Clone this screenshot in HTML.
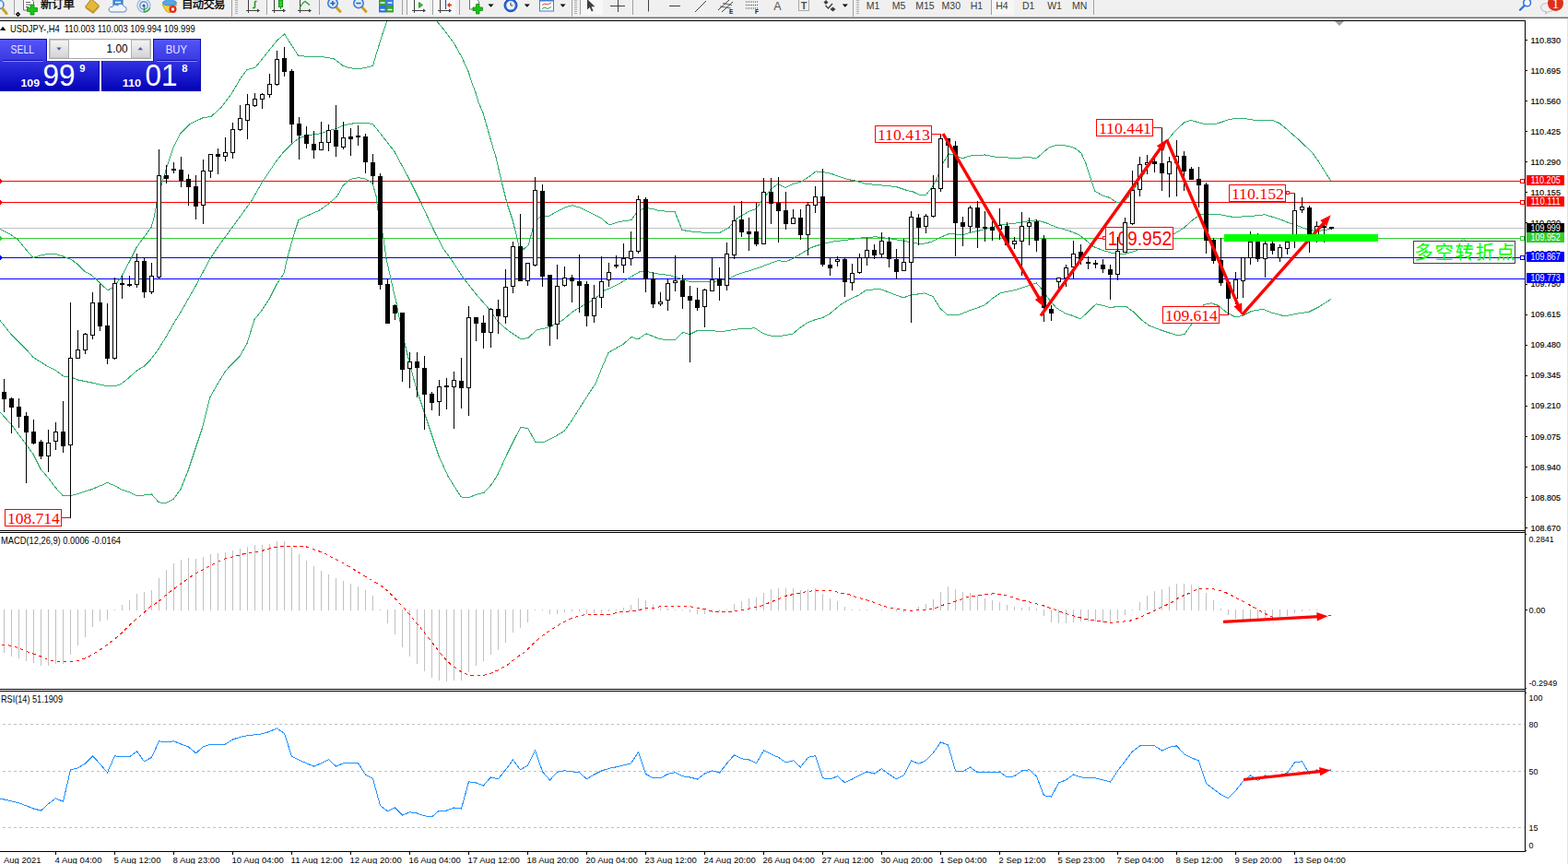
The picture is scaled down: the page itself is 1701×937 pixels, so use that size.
<!DOCTYPE html>
<html><head><meta charset="utf-8"><title>USDJPY H4</title>
<style>html,body{margin:0;padding:0;background:#fff;}body{width:1701px;height:937px;overflow:hidden;font-family:"Liberation Sans",sans-serif;}#root{position:relative;width:1701px;height:937px;overflow:hidden;background:#fff}text{white-space:pre}</style>
</head><body><div id="root">
<svg width="1701" height="937" viewBox="0 0 1701 937" style="position:absolute;left:0;top:0;display:block">
<defs><clipPath id="cm"><rect x="0" y="23" width="1654" height="552"/></clipPath><clipPath id="ctb"><rect x="0" y="0" width="1701" height="18"/></clipPath><clipPath id="cmacd"><rect x="0" y="578" width="1654" height="169"/></clipPath><clipPath id="crsi"><rect x="0" y="750" width="1654" height="173"/></clipPath><linearGradient id="gb1" x1="0" y1="0" x2="0" y2="1"><stop offset="0" stop-color="#5555fb"/><stop offset="1" stop-color="#3838e0"/></linearGradient><linearGradient id="gb2" x1="0" y1="0" x2="0" y2="1"><stop offset="0" stop-color="#3232e2"/><stop offset="0.45" stop-color="#1c1cd0"/><stop offset="1" stop-color="#0202b4"/></linearGradient><linearGradient id="gbtn" x1="0" y1="0" x2="0" y2="1"><stop offset="0" stop-color="#f4f4f4"/><stop offset="1" stop-color="#d4d4d4"/></linearGradient></defs>
<rect x="0" y="0" width="1701" height="937" fill="#ffffff" />
<rect x="0" y="0" width="1701" height="18" fill="#f0f0f0" />
<rect x="0" y="18" width="1701" height="1" fill="#b4b4b4" />
<rect x="0" y="19" width="1701" height="1" fill="#6e6e6e" />
<rect x="1700" y="20" width="1" height="917" fill="#e3e3e3" />
<g clip-path="url(#ctb)">
<circle cx="-0.5" cy="5" r="4.5" fill="#e8f2fc" stroke="#4a86d0" stroke-width="1.6"/>
<path d="M2.5 9 L7 14.5" stroke="#c9a227" stroke-width="3" stroke-linecap="round"/>
<rect x="15" y="0" width="1" height="16" fill="#a0a0a0" shape-rendering="crispEdges"/>
<path d="M19.5 13.7 L21.3 15.5 L19.5 17.3 L17.7 15.5 Z" fill="none" stroke="#000" stroke-width="1.4"/>
<path d="M25.5 -1 H34 L36.5 1.5 V11 H25.5 Z" fill="#fff" stroke="#707070" stroke-width="1"/>
<path d="M28 2.5 H33 M28 5 H33 M28 7.5 H31" stroke="#606060" stroke-width="1"/>
<path d="M33 5 H37 V8.5 H40.5 V12.5 H37 V16 H33 V12.5 H29.5 V8.5 H33 Z" fill="#19c419" stroke="#0a8a0a" stroke-width="0.8"/>
<text x="44" y="9.31" font-family="'Liberation Sans','Noto Sans CJK SC',sans-serif" font-size="12.4px" fill="#000" stroke="#000" stroke-width="0.35" textLength="36.8" lengthAdjust="spacing">新订单</text>
<path d="M92.5 7.5 L99 -1 L107.5 6 L101 13 Z" fill="#e2b93a" stroke="#a87812" stroke-width="1"/>
<path d="M93 8.5 L101 14 L107.5 7.2" fill="none" stroke="#c49a2a" stroke-width="1.4"/>
<rect x="123" y="-1" width="10" height="9" fill="#3d8fe0" stroke="#2a6fc0" stroke-width="1"/>
<path d="M125 2.5 H131" stroke="#fff" stroke-width="1.4"/>
<path d="M122 13 H134 a3 3 0 0 0 0.5 -6 a4 4 0 0 0 -7 -1 a3.5 3.5 0 0 0 -5.5 1.5 a2.8 2.8 0 0 0 -2 5.5 Z" fill="#eef4fb" stroke="#5a86c8" stroke-width="1"/>
<circle cx="156" cy="6" r="7" fill="none" stroke="#9bbce0" stroke-width="1.4"/>
<circle cx="156" cy="6" r="4.2" fill="none" stroke="#5f93d6" stroke-width="1.4"/>
<path d="M156.5 6 V13 a7 7 0 0 0 6 -4.5" fill="none" stroke="#3ea54a" stroke-width="1.6"/>
<circle cx="156" cy="6" r="1.6" fill="#2a62c0"/>
<path d="M176 5 L192 5 L186 12 L184 14 L180 12 Z" fill="#f2cf3a" stroke="#c69a18" stroke-width="0.8"/>
<ellipse cx="184" cy="3" rx="7.5" ry="3" fill="#58a6e6" stroke="#2f7fd0" stroke-width="0.8"/>
<path d="M180 3 Q180 -3 184 -3 Q188 -3 188 3 Z" fill="#58a6e6"/>
<circle cx="187.5" cy="10" r="4" fill="#e02a1c"/><rect x="186" y="8.5" width="3" height="3" fill="#fff"/>
<text x="197" y="9.31" font-family="'Liberation Sans','Noto Sans CJK SC',sans-serif" font-size="12.4px" fill="#000" stroke="#000" stroke-width="0.35" textLength="47.5" lengthAdjust="spacing">自动交易</text>
<rect x="251" y="0" width="1" height="18" fill="#a0a0a0" shape-rendering="crispEdges"/>
<rect x="255" y="0" width="3" height="1" fill="#b0b0b0" shape-rendering="crispEdges"/>
<rect x="255" y="2" width="3" height="1" fill="#b0b0b0" shape-rendering="crispEdges"/>
<rect x="255" y="4" width="3" height="1" fill="#b0b0b0" shape-rendering="crispEdges"/>
<rect x="255" y="6" width="3" height="1" fill="#b0b0b0" shape-rendering="crispEdges"/>
<rect x="255" y="8" width="3" height="1" fill="#b0b0b0" shape-rendering="crispEdges"/>
<rect x="255" y="10" width="3" height="1" fill="#b0b0b0" shape-rendering="crispEdges"/>
<rect x="255" y="12" width="3" height="1" fill="#b0b0b0" shape-rendering="crispEdges"/>
<rect x="255" y="14" width="3" height="1" fill="#b0b0b0" shape-rendering="crispEdges"/>
<path d="M269.5 -2 V14.0 M267 11.5 H281" stroke="#404040" stroke-width="1" fill="none"/>
<path d="M279 9.5 L282 11.5 L279 13.5 Z" fill="#404040"/>
<path d="M276.5 1.5 H278.5 M276.5 1.5 V8.5 M274 8.5 H276.5" stroke="#18a018" stroke-width="1.6" fill="none"/>
<rect x="290" y="0" width="24" height="16" fill="#f7f7f7"/>
<rect x="289" y="0" width="1" height="16" fill="#a0a0a0" shape-rendering="crispEdges"/>
<path d="M297.5 -2 V14.0 M295 11.5 H309" stroke="#404040" stroke-width="1" fill="none"/>
<path d="M307 9.5 L310 11.5 L307 13.5 Z" fill="#404040"/>
<rect x="302.5" y="0" width="4" height="7.5" fill="#2fd02f" stroke="#109010" stroke-width="1"/><path d="M304.5 8 V10" stroke="#109010" stroke-width="1"/>
<path d="M325.5 -2 V14.0 M323 11.5 H337" stroke="#404040" stroke-width="1" fill="none"/>
<path d="M335 9.5 L338 11.5 L335 13.5 Z" fill="#404040"/>
<path d="M325 9 Q328 3 331 1.5 L336 5.5" stroke="#18a018" stroke-width="1.2" fill="none"/>
<rect x="346" y="0" width="1" height="16" fill="#a0a0a0" shape-rendering="crispEdges"/>
<path d="M364.5 7.5 L369 12.5" stroke="#d0a020" stroke-width="3" stroke-linecap="round"/>
<circle cx="361" cy="3.5" r="5.2" fill="#dcecfb" stroke="#3f7fd0" stroke-width="1.6"/>
<path d="M358.4 3.5 H363.6" stroke="#2a62c0" stroke-width="1.6"/>
<path d="M361 0.9 V6.1" stroke="#2a62c0" stroke-width="1.6"/>
<path d="M392.5 7.5 L397 12.5" stroke="#d0a020" stroke-width="3" stroke-linecap="round"/>
<circle cx="389" cy="3.5" r="5.2" fill="#dcecfb" stroke="#3f7fd0" stroke-width="1.6"/>
<path d="M386.4 3.5 H391.6" stroke="#2a62c0" stroke-width="1.6"/>
<rect x="411" y="-1" width="8" height="7" fill="#3aa03a"/><rect x="419" y="-1" width="8" height="7" fill="#3d7be0"/>
<rect x="411" y="6" width="8" height="7.5" fill="#2f6fe0"/><rect x="419" y="6" width="8" height="7.5" fill="#3aa03a"/>
<path d="M412.5 10.5 H417.5 M420.5 10.5 H425.5 M412.5 3 H417.5 M420.5 3 H425.5" stroke="#f4f8ff" stroke-width="1.6"/>
<rect x="436" y="0" width="1" height="16" fill="#a0a0a0" shape-rendering="crispEdges"/>
<rect x="442" y="0" width="24" height="16" fill="#f8f8f8"/><rect x="470" y="0" width="24" height="16" fill="#f8f8f8"/>
<rect x="441" y="0" width="1" height="16" fill="#a0a0a0" shape-rendering="crispEdges"/>
<path d="M449.5 -2 V14.0 M447 11.5 H461" stroke="#404040" stroke-width="1" fill="none"/>
<path d="M459 9.5 L462 11.5 L459 13.5 Z" fill="#404040"/>
<path d="M454.5 2.5 L458.5 5.5 L454.5 8.5 Z" fill="#2fc02f" stroke="#109010" stroke-width="0.8"/>
<rect x="469" y="0" width="1" height="16" fill="#a0a0a0" shape-rendering="crispEdges"/>
<path d="M477.5 -2 V14.0 M475 11.5 H489" stroke="#404040" stroke-width="1" fill="none"/>
<path d="M487 9.5 L490 11.5 L487 13.5 Z" fill="#404040"/>
<path d="M483.5 -2 V10" stroke="#2060a8" stroke-width="1.2"/><path d="M490 5.5 H486 M488 3.5 L486 5.5 L488 7.5" stroke="#e03010" stroke-width="1.3" fill="none"/>
<rect x="498" y="0" width="1" height="16" fill="#a0a0a0" shape-rendering="crispEdges"/>
<path d="M509.5 -1 H517 L519.5 1.5 V10 H509.5 Z" fill="#fff" stroke="#707070" stroke-width="1"/>
<path d="M516.5 4.5 H520 V8 H523.5 V11.5 H520 V15 H516.5 V11.5 H513 V8 H516.5 Z" fill="#19c419" stroke="#0a8a0a" stroke-width="0.8"/>
<path d="M529.5 4.5 L535.5 4.5 L532.5 7.8 Z" fill="#000"/>
<circle cx="554" cy="5.8" r="7" fill="#2a66d8" stroke="#1c48a8" stroke-width="1"/><circle cx="554" cy="5.8" r="4.8" fill="#eef4ff"/>
<path d="M554 2.6 V6 H556.5" stroke="#404040" stroke-width="1" fill="none"/>
<path d="M568.8 4.5 L574.8 4.5 L571.8 7.8 Z" fill="#000"/>
<rect x="585.5" y="-1" width="15" height="13" fill="#fff" stroke="#3f7fd0" stroke-width="1"/><rect x="586" y="-1" width="14" height="2.5" fill="#3f7fd0"/>
<path d="M588 5.5 L591 4 L594 5 L598 3" stroke="#d04030" stroke-width="1" fill="none"/><path d="M588 9.5 L591 8 L594 9.5 L598 7.5" stroke="#30a040" stroke-width="1" fill="none"/>
<path d="M607.6 4.5 L613.6 4.5 L610.6 7.8 Z" fill="#000"/>
<rect x="620" y="0" width="1" height="18" fill="#a0a0a0" shape-rendering="crispEdges"/>
<rect x="623" y="0" width="3" height="1" fill="#b0b0b0" shape-rendering="crispEdges"/>
<rect x="623" y="2" width="3" height="1" fill="#b0b0b0" shape-rendering="crispEdges"/>
<rect x="623" y="4" width="3" height="1" fill="#b0b0b0" shape-rendering="crispEdges"/>
<rect x="623" y="6" width="3" height="1" fill="#b0b0b0" shape-rendering="crispEdges"/>
<rect x="623" y="8" width="3" height="1" fill="#b0b0b0" shape-rendering="crispEdges"/>
<rect x="623" y="10" width="3" height="1" fill="#b0b0b0" shape-rendering="crispEdges"/>
<rect x="623" y="12" width="3" height="1" fill="#b0b0b0" shape-rendering="crispEdges"/>
<rect x="623" y="14" width="3" height="1" fill="#b0b0b0" shape-rendering="crispEdges"/>
<rect x="630" y="0" width="24" height="16" fill="#f8f8f8"/>
<rect x="629" y="0" width="1" height="16" fill="#a0a0a0" shape-rendering="crispEdges"/>
<path d="M637 -1 V10.5 L639.8 8 L641.8 12.5 L643.5 11.7 L641.6 7.3 L645.5 7.3 Z" fill="#404040"/>
<path d="M670.5 -2 V13 M662 6.5 H678" stroke="#404040" stroke-width="1"/>
<rect x="686" y="0" width="1" height="16" fill="#a0a0a0" shape-rendering="crispEdges"/>
<path d="M703.5 -2 V12.5" stroke="#404040" stroke-width="1"/>
<path d="M726 6.5 H738" stroke="#404040" stroke-width="1"/>
<path d="M754 13 L766 1" stroke="#404040" stroke-width="1"/>
<path d="M779 11 L791 0 M783 13 L795 2" stroke="#404040" stroke-width="1"/><path d="M781 7 L793 9 M784 3.5 L794 5.5" stroke="#404040" stroke-width="0.8"/>
<text x="791" y="15" font-family="Liberation Sans" font-size="6.5px" font-weight="bold" fill="#202020">E</text>
<path d="M809 2 H823" stroke="#404040" stroke-width="1" stroke-dasharray="1 1"/>
<path d="M809 5.5 H823" stroke="#404040" stroke-width="1" stroke-dasharray="1 1"/>
<path d="M809 9 H823" stroke="#404040" stroke-width="1" stroke-dasharray="1 1"/>
<text x="819" y="15" font-family="Liberation Sans" font-size="6.5px" font-weight="bold" fill="#202020">F</text>
<text x="843.3" y="10.5" font-family="Liberation Sans" font-size="12.5px" fill="#505050" text-anchor="middle">A</text>
<rect x="866.5" y="-0.5" width="11" height="12" fill="none" stroke="#606060" stroke-width="1" stroke-dasharray="1 1"/>
<text x="872" y="10" font-family="Liberation Sans" font-size="11px" font-weight="bold" fill="#505050" text-anchor="middle">T</text>
<path d="M893.5 2.5 L896 0 L898.5 2.5 L896 5 Z" fill="#404040"/><path d="M900.5 10 L903.5 7.5 L906.5 10 L903.5 12.5 Z" fill="#404040"/><path d="M895.5 6 L898.5 9 L903 4" stroke="#404040" stroke-width="1.4" fill="none"/>
<path d="M913.8 4.5 L919.8 4.5 L916.8 7.8 Z" fill="#000"/>
<rect x="925" y="0" width="1" height="18" fill="#a0a0a0" shape-rendering="crispEdges"/>
<rect x="929" y="0" width="3" height="1" fill="#b0b0b0" shape-rendering="crispEdges"/>
<rect x="929" y="2" width="3" height="1" fill="#b0b0b0" shape-rendering="crispEdges"/>
<rect x="929" y="4" width="3" height="1" fill="#b0b0b0" shape-rendering="crispEdges"/>
<rect x="929" y="6" width="3" height="1" fill="#b0b0b0" shape-rendering="crispEdges"/>
<rect x="929" y="8" width="3" height="1" fill="#b0b0b0" shape-rendering="crispEdges"/>
<rect x="929" y="10" width="3" height="1" fill="#b0b0b0" shape-rendering="crispEdges"/>
<rect x="929" y="12" width="3" height="1" fill="#b0b0b0" shape-rendering="crispEdges"/>
<rect x="929" y="14" width="3" height="1" fill="#b0b0b0" shape-rendering="crispEdges"/>
<rect x="1076" y="0" width="24" height="16" fill="#f7f7f7"/>
<rect x="1075" y="0" width="1" height="16" fill="#a0a0a0" shape-rendering="crispEdges"/>
<text x="947" y="10" font-family="Liberation Sans" font-size="10.5px" fill="#3c3c3c" text-anchor="middle">M1</text>
<text x="975" y="10" font-family="Liberation Sans" font-size="10.5px" fill="#3c3c3c" text-anchor="middle">M5</text>
<text x="1003.5" y="10" font-family="Liberation Sans" font-size="10.5px" fill="#3c3c3c" text-anchor="middle">M15</text>
<text x="1031.8" y="10" font-family="Liberation Sans" font-size="10.5px" fill="#3c3c3c" text-anchor="middle">M30</text>
<text x="1059.4" y="10" font-family="Liberation Sans" font-size="10.5px" fill="#3c3c3c" text-anchor="middle">H1</text>
<text x="1087" y="10" font-family="Liberation Sans" font-size="10.5px" fill="#3c3c3c" text-anchor="middle">H4</text>
<text x="1115.6" y="10" font-family="Liberation Sans" font-size="10.5px" fill="#3c3c3c" text-anchor="middle">D1</text>
<text x="1144" y="10" font-family="Liberation Sans" font-size="10.5px" fill="#3c3c3c" text-anchor="middle">W1</text>
<text x="1171.2" y="10" font-family="Liberation Sans" font-size="10.5px" fill="#3c3c3c" text-anchor="middle">MN</text>
<rect x="1186" y="0" width="1" height="16" fill="#a0a0a0" shape-rendering="crispEdges"/>
<circle cx="1656.6" cy="2.9" r="3.9" fill="#f4f8ff" stroke="#2f6fd8" stroke-width="1.5"/><path d="M1653.8 5.9 L1649 10.8" stroke="#2f6fd8" stroke-width="2.2" stroke-linecap="round"/>
<path d="M1680 4 a6 4.5 0 1 0 -2.5 8.6 l-1 2.4 l3.5 -2.4 a6.5 4.5 0 0 0 6 -4" fill="#f0f0f4" stroke="#b8b8c0" stroke-width="1"/>
<circle cx="1687.5" cy="3.4" r="8.5" fill="#dc3018"/>
<text x="1687.5" y="8.5" font-family="Liberation Serif" font-size="15px" fill="#fff" text-anchor="middle">1</text>
</g>
<rect x="0" y="22" width="1655" height="1" fill="#000000" />
<rect x="1654" y="22" width="1" height="902" fill="#000000" />
<rect x="0" y="575" width="1655" height="1" fill="#000000" />
<rect x="0" y="577" width="1655" height="1" fill="#000000" />
<rect x="0" y="747" width="1655" height="1" fill="#000000" />
<rect x="0" y="749" width="1655" height="1" fill="#000000" />
<rect x="0" y="923" width="1655" height="1" fill="#000000" />
<path d="M1448 23 L1458 23 L1453 28 Z" fill="#a0a0a0"/>
<g shape-rendering="crispEdges">
<rect x="0" y="247" width="1654" height="1" fill="#c0c0c0" />
<rect x="0" y="196" width="1654" height="1" fill="#ff0000" />
<rect x="0" y="219" width="1654" height="1" fill="#ff0000" />
<rect x="0" y="258" width="1654" height="1" fill="#32cd32" />
<rect x="0" y="279" width="1654" height="1" fill="#0000ff" />
<rect x="0" y="302" width="1654" height="1" fill="#0000ff" />
<rect x="0" y="194" width="1" height="5" fill="#ff0000" />
<rect x="1" y="195" width="1" height="3" fill="#ff0000" />
<rect x="1649.5" y="194.5" width="4" height="4" fill="#fff" stroke="#ff0000" stroke-width="1"/>
<rect x="0" y="217" width="1" height="5" fill="#ff0000" />
<rect x="1" y="218" width="1" height="3" fill="#ff0000" />
<rect x="1649.5" y="217.5" width="4" height="4" fill="#fff" stroke="#ff0000" stroke-width="1"/>
<rect x="0" y="256" width="1" height="5" fill="#32cd32" />
<rect x="1" y="257" width="1" height="3" fill="#32cd32" />
<rect x="1649.5" y="256.5" width="4" height="4" fill="#fff" stroke="#32cd32" stroke-width="1"/>
<rect x="0" y="277" width="1" height="5" fill="#0000ff" />
<rect x="1" y="278" width="1" height="3" fill="#0000ff" />
<rect x="1649.5" y="277.5" width="4" height="4" fill="#fff" stroke="#0000ff" stroke-width="1"/>
</g>
<polyline points="0.0,248.5 12.0,254.5 20.0,260.5 28.0,270.5 36.0,279.5 44.0,277.0 52.0,275.5 62.0,275.9 70.0,278.5 78.0,282.0 84.0,286.5 92.0,294.5 98.0,297.5 104.0,302.5 110.0,308.5 117.0,315.0 124.0,310.5 132.0,299.5 140.0,284.5 148.0,268.5 156.0,257.5 164.0,246.5 167.0,236.5 170.0,220.5 175.0,201.3 180.0,184.3 188.0,160.4 196.0,144.4 206.0,134.4 220.0,127.8 229.0,126.4 240.0,116.4 252.0,100.4 260.0,86.4 268.0,75.5 277.0,73.1 284.0,64.5 292.0,54.5 300.0,44.5 308.6,36.9 316.0,48.5 324.0,60.9 330.0,61.0 337.0,61.8 351.0,61.8 362.5,63.9 372.3,71.5 379.4,73.7 387.8,74.8 396.3,73.4 404.5,71.5 407.0,62.8 410.4,51.5 414.7,37.4 419.6,23.3 424.0,8.5" fill="none" stroke="#2fae6c" stroke-width="1" clip-path="url(#cm)" shape-rendering="crispEdges" />
<polyline points="468.0,12.5 474.0,23.3 482.4,33.2 492.3,46.6 500.7,61.4 507.8,76.9 513.4,93.8 516.0,100.5 519.0,110.8 524.0,122.5 532.0,150.5 538.0,170.5 544.0,196.5 550.0,220.4 556.0,238.4 560.0,254.3 563.0,267.5 568.0,270.3 573.0,266.3 578.0,248.4 583.0,237.4 588.0,234.4 596.0,234.0 606.0,228.4 614.0,224.4 621.0,222.8 630.0,225.4 640.0,230.4 652.0,236.4 661.0,244.0 672.0,240.5 685.0,238.5 692.0,228.5 700.0,225.5 708.0,226.5 716.0,228.8 732.0,229.5 740.0,249.5 756.0,251.8 780.0,252.8 790.0,247.5 800.0,236.5 812.0,229.5 820.0,226.5 828.0,215.5 836.0,205.5 844.0,199.5 852.0,203.5 860.0,199.5 869.0,197.1 878.0,191.5 885.0,185.9 893.0,186.5 902.0,188.5 918.0,194.1 928.0,196.1 940.0,199.5 956.0,200.9 972.0,202.5 984.0,206.5 990.0,207.8 998.0,211.5 1004.0,212.0 1010.0,204.5 1016.0,194.5 1022.0,178.5 1029.0,166.9 1036.0,168.5 1044.0,171.9 1052.0,169.1 1068.0,167.9 1084.0,170.9 1102.0,171.1 1118.0,170.9 1124.0,172.1 1130.0,166.9 1138.0,159.9 1146.0,157.5 1158.0,158.1 1166.0,160.5 1173.0,166.1 1178.0,177.5 1184.0,196.5 1188.0,207.5 1196.0,212.0 1204.0,214.5 1212.0,220.0 1220.0,218.5 1228.0,208.5 1236.0,196.5 1246.0,180.5 1256.0,166.5 1266.0,152.7 1275.3,141.4 1285.0,132.7 1292.0,130.5 1300.7,132.9 1307.7,134.8 1317.0,134.8 1324.7,132.7 1331.7,130.1 1338.8,128.7 1351.5,128.7 1361.3,130.5 1381.0,130.5 1388.0,133.7 1395.0,139.3 1402.0,145.6 1409.0,151.5 1416.0,158.3 1423.4,165.4 1430.5,175.3 1437.5,186.5 1443.6,196.1" fill="none" stroke="#2fae6c" stroke-width="1" clip-path="url(#cm)" shape-rendering="crispEdges" />
<polyline points="0.0,347.5 12.0,362.5 20.0,370.5 30.0,380.5 36.0,387.5 44.0,392.5 52.0,397.5 60.0,401.5 69.0,408.1 76.0,408.5 84.0,411.9 100.0,415.1 116.6,418.9 125.0,418.9 132.0,416.1 140.0,409.5 149.0,401.5 156.0,397.5 164.0,389.3 172.0,378.5 180.0,365.5 188.0,351.5 196.0,338.5 204.0,324.5 212.0,310.5 220.0,295.5 228.0,280.5 236.0,268.5 244.0,257.5 252.0,246.5 260.0,235.5 268.0,224.5 273.0,217.5 284.0,198.3 292.0,186.3 300.0,174.4 308.0,164.4 316.0,156.4 324.0,150.0 332.0,147.4 335.6,146.5 348.3,144.6 356.8,141.5 365.3,139.3 372.3,135.9 383.6,133.8 399.8,133.8 404.8,135.0 414.0,146.5 428.0,164.5 442.0,190.5 456.0,218.4 470.0,248.4 480.0,268.3 489.0,280.5 502.0,300.5 516.0,318.5 530.0,334.5 540.0,348.5 550.0,357.5 565.0,367.8 573.0,366.5 582.0,358.0 596.0,354.8 610.0,347.5 622.0,337.5 634.0,330.5 646.0,323.5 656.0,314.5 660.0,313.4 672.0,307.5 684.0,300.5 694.0,294.8 702.0,294.5 710.0,296.5 726.0,298.5 740.0,302.5 748.0,305.5 764.0,306.0 780.0,304.8 792.0,301.5 800.0,297.5 820.0,291.5 836.0,285.5 844.0,282.5 852.0,284.0 860.0,280.5 870.0,274.5 880.0,268.5 892.0,264.5 904.0,262.0 920.0,260.0 936.0,257.8 950.0,256.8 964.0,258.5 976.0,260.5 988.0,262.8 1000.0,264.8 1010.0,262.4 1020.0,257.4 1030.0,253.4 1044.0,254.8 1056.0,251.4 1070.0,248.4 1084.0,244.0 1100.0,242.4 1114.0,240.0 1124.0,238.8 1134.0,241.4 1146.0,246.4 1160.0,250.4 1170.0,254.4 1178.0,260.4 1186.0,267.4 1196.0,271.4 1208.0,274.8 1220.0,275.4 1230.0,272.8 1238.0,269.4 1250.0,263.4 1264.0,258.4 1274.0,253.4 1284.0,247.4 1294.0,238.4 1302.0,232.8 1314.0,232.0 1320.0,232.0 1338.0,235.5 1356.0,234.5 1372.0,232.8 1388.0,237.5 1400.0,242.5 1410.0,245.5 1419.0,249.5 1430.0,250.5 1444.0,248.5" fill="none" stroke="#2fae6c" stroke-width="1" clip-path="url(#cm)" shape-rendering="crispEdges" />
<polyline points="0.0,447.0 12.4,460.5 28.0,481.5 36.0,492.5 44.0,508.5 52.4,518.5 60.0,528.5 68.4,537.8 76.4,537.8 84.0,535.8 100.0,530.5 116.6,523.5 124.0,526.5 132.0,531.0 140.0,533.5 149.0,538.0 160.0,536.5 164.4,536.0 172.0,544.5 179.0,546.0 188.0,541.5 196.0,530.5 204.0,510.5 212.0,486.5 220.0,462.5 228.0,430.5 236.0,416.5 244.0,403.5 249.0,397.5 260.0,386.5 268.0,372.5 276.0,346.5 284.0,336.5 292.0,324.5 300.0,308.5 308.0,296.5 312.0,278.5 316.0,264.5 320.0,250.5 324.0,238.5 332.0,234.5 346.0,228.4 356.0,221.4 366.0,212.4 372.0,201.4 380.0,194.4 389.0,192.6 396.0,194.0 404.0,198.4 408.0,212.4 410.0,228.4 416.0,258.3 419.0,280.5 424.0,302.5 430.0,328.5 434.0,348.5 439.0,372.5 446.0,400.5 452.0,422.5 460.0,446.5 468.0,470.5 476.0,494.5 486.0,516.5 500.0,538.8 508.0,540.0 516.0,536.4 525.0,534.4 534.0,524.4 540.0,514.5 550.0,492.5 558.0,476.5 565.0,462.9 573.0,464.9 581.0,479.8 590.0,479.5 602.0,473.5 612.0,467.5 620.0,456.5 630.0,440.5 643.0,420.5 646.0,416.4 654.0,396.4 660.0,382.4 676.0,373.4 685.0,365.4 692.0,368.0 701.0,361.8 716.0,367.8 732.0,369.0 741.0,360.4 748.0,362.8 756.0,358.8 776.0,359.0 784.0,359.4 800.0,357.0 819.0,355.8 828.0,361.8 836.0,364.0 844.0,365.0 860.0,362.0 868.0,355.4 876.0,349.8 884.0,346.8 892.0,344.8 900.0,340.4 912.0,330.4 920.0,325.4 932.0,319.9 940.0,314.1 956.0,313.9 968.0,318.5 980.0,322.9 988.0,320.1 1003.0,317.9 1012.0,321.5 1020.0,334.5 1028.0,341.8 1040.0,341.5 1050.0,337.5 1068.0,331.0 1078.0,322.5 1086.0,317.5 1100.0,314.9 1114.0,310.5 1124.3,306.9 1130.0,313.5 1138.0,324.5 1146.0,334.0 1156.0,340.0 1164.0,342.5 1172.0,346.0 1180.0,338.5 1189.0,329.8 1198.0,331.5 1205.0,334.0 1212.0,332.0 1222.0,332.5 1230.0,338.5 1238.0,346.5 1246.0,352.8 1258.0,357.5 1270.0,361.5 1278.0,363.8 1285.0,362.5 1292.0,352.5 1306.0,330.5 1314.0,328.8 1322.0,331.5 1330.0,338.3 1340.0,343.9 1347.0,342.7 1358.0,337.3 1370.0,335.3 1380.0,339.3 1394.0,342.9 1406.0,340.3 1420.0,338.3 1430.0,333.3 1444.0,324.4" fill="none" stroke="#2fae6c" stroke-width="1" clip-path="url(#cm)" shape-rendering="crispEdges" />
<g shape-rendering="crispEdges">
<rect x="1199.5" y="246.5" width="73" height="24" fill="#fff" stroke="#ff0000" stroke-width="1"/>
<rect x="1196.5" y="256.5" width="3" height="3" fill="#fff" stroke="#ff0000" stroke-width="1"/>
<rect x="1190" y="258" width="6" height="1" fill="#ff0000" />
</g>
<text x="1201.7" y="266.48" font-family="Liberation Sans" font-size="22px" font-weight="normal" fill="#ff0000" text-anchor="start" textLength="69.5" lengthAdjust="spacingAndGlyphs" >109.952</text>
<g shape-rendering="crispEdges">
<rect x="4" y="411" width="1" height="36" fill="#000" />
<rect x="2" y="425" width="5" height="8" fill="#000" />
<rect x="12" y="431" width="1" height="39" fill="#000" />
<rect x="10" y="432" width="5" height="10" fill="#000" />
<rect x="20" y="432" width="1" height="32" fill="#000" />
<rect x="18" y="441" width="5" height="11" fill="#000" />
<rect x="28" y="447" width="1" height="77" fill="#000" />
<rect x="26" y="451" width="5" height="18" fill="#000" />
<rect x="36" y="455" width="1" height="27" fill="#000" />
<rect x="34" y="468" width="5" height="13" fill="#000" />
<rect x="44" y="477" width="1" height="21" fill="#000" />
<rect x="42" y="479" width="5" height="16" fill="#000" />
<rect x="52" y="466" width="1" height="46" fill="#000" />
<rect x="50" y="480" width="5" height="15" fill="#000" />
<rect x="51" y="481" width="3" height="13" fill="#fff" />
<rect x="60" y="458" width="1" height="30" fill="#000" />
<rect x="58" y="468" width="5" height="11" fill="#000" />
<rect x="59" y="469" width="3" height="9" fill="#fff" />
<rect x="68" y="435" width="1" height="56" fill="#000" />
<rect x="66" y="468" width="5" height="16" fill="#000" />
<rect x="76" y="328" width="1" height="234" fill="#000" />
<rect x="74" y="388" width="5" height="95" fill="#000" />
<rect x="75" y="389" width="3" height="93" fill="#fff" />
<rect x="84" y="358" width="1" height="31" fill="#000" />
<rect x="82" y="379" width="5" height="10" fill="#000" />
<rect x="83" y="380" width="3" height="8" fill="#fff" />
<rect x="92" y="361" width="1" height="23" fill="#000" />
<rect x="90" y="362" width="5" height="18" fill="#000" />
<rect x="91" y="363" width="3" height="16" fill="#fff" />
<rect x="100" y="317" width="1" height="51" fill="#000" />
<rect x="98" y="328" width="5" height="36" fill="#000" />
<rect x="99" y="329" width="3" height="34" fill="#fff" />
<rect x="108" y="308" width="1" height="51" fill="#000" />
<rect x="106" y="328" width="5" height="26" fill="#000" />
<rect x="116" y="329" width="1" height="66" fill="#000" />
<rect x="114" y="353" width="5" height="36" fill="#000" />
<rect x="124" y="301" width="1" height="89" fill="#000" />
<rect x="122" y="307" width="5" height="82" fill="#000" />
<rect x="123" y="308" width="3" height="80" fill="#fff" />
<rect x="132" y="299" width="1" height="25" fill="#000" />
<rect x="130" y="307" width="5" height="2" fill="#000" />
<rect x="140" y="299" width="1" height="12" fill="#000" />
<rect x="138" y="308" width="5" height="2" fill="#000" />
<rect x="148" y="275" width="1" height="37" fill="#000" />
<rect x="146" y="283" width="5" height="26" fill="#000" />
<rect x="147" y="284" width="3" height="24" fill="#fff" />
<rect x="156" y="280" width="1" height="43" fill="#000" />
<rect x="154" y="283" width="5" height="34" fill="#000" />
<rect x="164" y="285" width="1" height="34" fill="#000" />
<rect x="162" y="299" width="5" height="18" fill="#000" />
<rect x="163" y="300" width="3" height="16" fill="#fff" />
<rect x="172" y="162" width="1" height="140" fill="#000" />
<rect x="170" y="190" width="5" height="111" fill="#000" />
<rect x="171" y="191" width="3" height="109" fill="#fff" />
<rect x="180" y="179" width="1" height="20" fill="#000" />
<rect x="178" y="190" width="5" height="4" fill="#000" />
<rect x="188" y="176" width="1" height="12" fill="#000" />
<rect x="186" y="183" width="5" height="2" fill="#000" />
<rect x="196" y="170" width="1" height="33" fill="#000" />
<rect x="194" y="184" width="5" height="12" fill="#000" />
<rect x="204" y="189" width="1" height="34" fill="#000" />
<rect x="202" y="194" width="5" height="9" fill="#000" />
<rect x="212" y="190" width="1" height="48" fill="#000" />
<rect x="210" y="202" width="5" height="22" fill="#000" />
<rect x="220" y="173" width="1" height="70" fill="#000" />
<rect x="218" y="185" width="5" height="38" fill="#000" />
<rect x="219" y="186" width="3" height="36" fill="#fff" />
<rect x="228" y="167" width="1" height="26" fill="#000" />
<rect x="226" y="167" width="5" height="19" fill="#000" />
<rect x="227" y="168" width="3" height="17" fill="#fff" />
<rect x="236" y="161" width="1" height="28" fill="#000" />
<rect x="234" y="167" width="5" height="3" fill="#000" />
<rect x="244" y="149" width="1" height="26" fill="#000" />
<rect x="242" y="165" width="5" height="5" fill="#000" />
<rect x="243" y="166" width="3" height="3" fill="#fff" />
<rect x="252" y="133" width="1" height="39" fill="#000" />
<rect x="250" y="140" width="5" height="26" fill="#000" />
<rect x="251" y="141" width="3" height="24" fill="#fff" />
<rect x="260" y="114" width="1" height="28" fill="#000" />
<rect x="258" y="128" width="5" height="13" fill="#000" />
<rect x="259" y="129" width="3" height="11" fill="#fff" />
<rect x="268" y="102" width="1" height="49" fill="#000" />
<rect x="266" y="113" width="5" height="18" fill="#000" />
<rect x="267" y="114" width="3" height="16" fill="#fff" />
<rect x="276" y="101" width="1" height="15" fill="#000" />
<rect x="274" y="107" width="5" height="8" fill="#000" />
<rect x="275" y="108" width="3" height="6" fill="#fff" />
<rect x="284" y="101" width="1" height="17" fill="#000" />
<rect x="282" y="102" width="5" height="6" fill="#000" />
<rect x="283" y="103" width="3" height="4" fill="#fff" />
<rect x="292" y="80" width="1" height="26" fill="#000" />
<rect x="290" y="91" width="5" height="12" fill="#000" />
<rect x="291" y="92" width="3" height="10" fill="#fff" />
<rect x="300" y="55" width="1" height="38" fill="#000" />
<rect x="298" y="64" width="5" height="28" fill="#000" />
<rect x="299" y="65" width="3" height="26" fill="#fff" />
<rect x="308" y="51" width="1" height="32" fill="#000" />
<rect x="306" y="63" width="5" height="15" fill="#000" />
<rect x="316" y="75" width="1" height="80" fill="#000" />
<rect x="314" y="77" width="5" height="58" fill="#000" />
<rect x="324" y="127" width="1" height="46" fill="#000" />
<rect x="322" y="134" width="5" height="13" fill="#000" />
<rect x="332" y="137" width="1" height="24" fill="#000" />
<rect x="330" y="146" width="5" height="10" fill="#000" />
<rect x="340" y="142" width="1" height="30" fill="#000" />
<rect x="338" y="156" width="5" height="7" fill="#000" />
<rect x="348" y="132" width="1" height="31" fill="#000" />
<rect x="346" y="154" width="5" height="9" fill="#000" />
<rect x="347" y="155" width="3" height="7" fill="#fff" />
<rect x="356" y="135" width="1" height="29" fill="#000" />
<rect x="354" y="141" width="5" height="14" fill="#000" />
<rect x="355" y="142" width="3" height="12" fill="#fff" />
<rect x="364" y="114" width="1" height="56" fill="#000" />
<rect x="362" y="141" width="5" height="18" fill="#000" />
<rect x="372" y="132" width="1" height="30" fill="#000" />
<rect x="370" y="149" width="5" height="11" fill="#000" />
<rect x="371" y="150" width="3" height="9" fill="#fff" />
<rect x="380" y="139" width="1" height="30" fill="#000" />
<rect x="378" y="148" width="5" height="3" fill="#000" />
<rect x="388" y="136" width="1" height="22" fill="#000" />
<rect x="386" y="147" width="5" height="2" fill="#000" />
<rect x="396" y="145" width="1" height="43" fill="#000" />
<rect x="394" y="148" width="5" height="28" fill="#000" />
<rect x="404" y="167" width="1" height="33" fill="#000" />
<rect x="402" y="176" width="5" height="15" fill="#000" />
<rect x="412" y="188" width="1" height="126" fill="#000" />
<rect x="410" y="191" width="5" height="118" fill="#000" />
<rect x="420" y="303" width="1" height="48" fill="#000" />
<rect x="418" y="308" width="5" height="43" fill="#000" />
<rect x="428" y="330" width="1" height="17" fill="#000" />
<rect x="426" y="331" width="5" height="9" fill="#000" />
<rect x="436" y="339" width="1" height="75" fill="#000" />
<rect x="434" y="339" width="5" height="62" fill="#000" />
<rect x="444" y="382" width="1" height="39" fill="#000" />
<rect x="442" y="392" width="5" height="8" fill="#000" />
<rect x="443" y="393" width="3" height="6" fill="#fff" />
<rect x="452" y="382" width="1" height="49" fill="#000" />
<rect x="450" y="392" width="5" height="7" fill="#000" />
<rect x="460" y="386" width="1" height="80" fill="#000" />
<rect x="458" y="399" width="5" height="29" fill="#000" />
<rect x="468" y="425" width="1" height="20" fill="#000" />
<rect x="466" y="427" width="5" height="10" fill="#000" />
<rect x="476" y="412" width="1" height="39" fill="#000" />
<rect x="474" y="419" width="5" height="17" fill="#000" />
<rect x="475" y="420" width="3" height="15" fill="#fff" />
<rect x="484" y="410" width="1" height="34" fill="#000" />
<rect x="482" y="418" width="5" height="2" fill="#000" />
<rect x="492" y="403" width="1" height="62" fill="#000" />
<rect x="490" y="412" width="5" height="8" fill="#000" />
<rect x="491" y="413" width="3" height="6" fill="#fff" />
<rect x="500" y="388" width="1" height="55" fill="#000" />
<rect x="498" y="413" width="5" height="8" fill="#000" />
<rect x="508" y="332" width="1" height="119" fill="#000" />
<rect x="506" y="344" width="5" height="77" fill="#000" />
<rect x="507" y="345" width="3" height="75" fill="#fff" />
<rect x="516" y="344" width="1" height="26" fill="#000" />
<rect x="514" y="344" width="5" height="7" fill="#000" />
<rect x="524" y="342" width="1" height="36" fill="#000" />
<rect x="522" y="350" width="5" height="11" fill="#000" />
<rect x="532" y="334" width="1" height="43" fill="#000" />
<rect x="530" y="335" width="5" height="26" fill="#000" />
<rect x="531" y="336" width="3" height="24" fill="#fff" />
<rect x="540" y="325" width="1" height="37" fill="#000" />
<rect x="538" y="335" width="5" height="8" fill="#000" />
<rect x="548" y="292" width="1" height="59" fill="#000" />
<rect x="546" y="311" width="5" height="33" fill="#000" />
<rect x="547" y="312" width="3" height="31" fill="#fff" />
<rect x="556" y="262" width="1" height="56" fill="#000" />
<rect x="554" y="267" width="5" height="44" fill="#000" />
<rect x="555" y="268" width="3" height="42" fill="#fff" />
<rect x="564" y="232" width="1" height="73" fill="#000" />
<rect x="562" y="267" width="5" height="38" fill="#000" />
<rect x="572" y="285" width="1" height="25" fill="#000" />
<rect x="570" y="285" width="5" height="20" fill="#000" />
<rect x="571" y="286" width="3" height="18" fill="#fff" />
<rect x="580" y="192" width="1" height="97" fill="#000" />
<rect x="578" y="206" width="5" height="82" fill="#000" />
<rect x="579" y="207" width="3" height="80" fill="#fff" />
<rect x="588" y="200" width="1" height="111" fill="#000" />
<rect x="586" y="207" width="5" height="93" fill="#000" />
<rect x="596" y="298" width="1" height="77" fill="#000" />
<rect x="594" y="298" width="5" height="56" fill="#000" />
<rect x="604" y="287" width="1" height="81" fill="#000" />
<rect x="602" y="310" width="5" height="42" fill="#000" />
<rect x="603" y="311" width="3" height="40" fill="#fff" />
<rect x="612" y="289" width="1" height="22" fill="#000" />
<rect x="610" y="301" width="5" height="9" fill="#000" />
<rect x="611" y="302" width="3" height="7" fill="#fff" />
<rect x="620" y="298" width="1" height="30" fill="#000" />
<rect x="618" y="301" width="5" height="4" fill="#000" />
<rect x="628" y="276" width="1" height="63" fill="#000" />
<rect x="626" y="305" width="5" height="5" fill="#000" />
<rect x="636" y="305" width="1" height="49" fill="#000" />
<rect x="634" y="308" width="5" height="35" fill="#000" />
<rect x="644" y="309" width="1" height="41" fill="#000" />
<rect x="642" y="323" width="5" height="20" fill="#000" />
<rect x="643" y="324" width="3" height="18" fill="#fff" />
<rect x="652" y="278" width="1" height="56" fill="#000" />
<rect x="650" y="305" width="5" height="18" fill="#000" />
<rect x="651" y="306" width="3" height="16" fill="#fff" />
<rect x="660" y="285" width="1" height="26" fill="#000" />
<rect x="658" y="295" width="5" height="9" fill="#000" />
<rect x="659" y="296" width="3" height="7" fill="#fff" />
<rect x="668" y="277" width="1" height="14" fill="#000" />
<rect x="666" y="287" width="5" height="2" fill="#000" />
<rect x="676" y="264" width="1" height="32" fill="#000" />
<rect x="674" y="280" width="5" height="8" fill="#000" />
<rect x="675" y="281" width="3" height="6" fill="#fff" />
<rect x="684" y="251" width="1" height="37" fill="#000" />
<rect x="682" y="272" width="5" height="9" fill="#000" />
<rect x="683" y="273" width="3" height="7" fill="#fff" />
<rect x="692" y="212" width="1" height="63" fill="#000" />
<rect x="690" y="216" width="5" height="57" fill="#000" />
<rect x="691" y="217" width="3" height="55" fill="#fff" />
<rect x="700" y="214" width="1" height="103" fill="#000" />
<rect x="698" y="216" width="5" height="87" fill="#000" />
<rect x="708" y="295" width="1" height="39" fill="#000" />
<rect x="706" y="302" width="5" height="28" fill="#000" />
<rect x="716" y="317" width="1" height="15" fill="#000" />
<rect x="714" y="327" width="5" height="3" fill="#000" />
<rect x="715" y="328" width="3" height="1" fill="#fff" />
<rect x="724" y="303" width="1" height="34" fill="#000" />
<rect x="722" y="307" width="5" height="19" fill="#000" />
<rect x="723" y="308" width="3" height="17" fill="#fff" />
<rect x="732" y="277" width="1" height="39" fill="#000" />
<rect x="730" y="304" width="5" height="3" fill="#000" />
<rect x="731" y="305" width="3" height="1" fill="#fff" />
<rect x="740" y="298" width="1" height="37" fill="#000" />
<rect x="738" y="304" width="5" height="18" fill="#000" />
<rect x="748" y="310" width="1" height="83" fill="#000" />
<rect x="746" y="321" width="5" height="5" fill="#000" />
<rect x="756" y="312" width="1" height="25" fill="#000" />
<rect x="754" y="325" width="5" height="9" fill="#000" />
<rect x="764" y="313" width="1" height="42" fill="#000" />
<rect x="762" y="314" width="5" height="19" fill="#000" />
<rect x="763" y="315" width="3" height="17" fill="#fff" />
<rect x="772" y="280" width="1" height="36" fill="#000" />
<rect x="770" y="303" width="5" height="13" fill="#000" />
<rect x="771" y="304" width="3" height="11" fill="#fff" />
<rect x="780" y="290" width="1" height="36" fill="#000" />
<rect x="778" y="302" width="5" height="8" fill="#000" />
<rect x="788" y="263" width="1" height="52" fill="#000" />
<rect x="786" y="275" width="5" height="35" fill="#000" />
<rect x="787" y="276" width="3" height="33" fill="#fff" />
<rect x="796" y="223" width="1" height="58" fill="#000" />
<rect x="794" y="239" width="5" height="38" fill="#000" />
<rect x="795" y="240" width="3" height="36" fill="#fff" />
<rect x="804" y="218" width="1" height="39" fill="#000" />
<rect x="802" y="238" width="5" height="14" fill="#000" />
<rect x="812" y="236" width="1" height="36" fill="#000" />
<rect x="810" y="251" width="5" height="3" fill="#000" />
<rect x="820" y="220" width="1" height="47" fill="#000" />
<rect x="818" y="251" width="5" height="14" fill="#000" />
<rect x="828" y="193" width="1" height="72" fill="#000" />
<rect x="826" y="208" width="5" height="57" fill="#000" />
<rect x="827" y="209" width="3" height="55" fill="#fff" />
<rect x="836" y="193" width="1" height="50" fill="#000" />
<rect x="834" y="208" width="5" height="13" fill="#000" />
<rect x="844" y="192" width="1" height="71" fill="#000" />
<rect x="842" y="220" width="5" height="9" fill="#000" />
<rect x="852" y="208" width="1" height="41" fill="#000" />
<rect x="850" y="228" width="5" height="15" fill="#000" />
<rect x="860" y="227" width="1" height="16" fill="#000" />
<rect x="858" y="236" width="5" height="7" fill="#000" />
<rect x="859" y="237" width="3" height="5" fill="#fff" />
<rect x="868" y="227" width="1" height="33" fill="#000" />
<rect x="866" y="236" width="5" height="19" fill="#000" />
<rect x="876" y="219" width="1" height="58" fill="#000" />
<rect x="874" y="222" width="5" height="33" fill="#000" />
<rect x="875" y="223" width="3" height="31" fill="#fff" />
<rect x="884" y="202" width="1" height="29" fill="#000" />
<rect x="882" y="213" width="5" height="10" fill="#000" />
<rect x="883" y="214" width="3" height="8" fill="#fff" />
<rect x="892" y="183" width="1" height="106" fill="#000" />
<rect x="890" y="213" width="5" height="74" fill="#000" />
<rect x="900" y="280" width="1" height="19" fill="#000" />
<rect x="898" y="287" width="5" height="4" fill="#000" />
<rect x="908" y="278" width="1" height="11" fill="#000" />
<rect x="906" y="281" width="5" height="3" fill="#000" />
<rect x="907" y="282" width="3" height="1" fill="#fff" />
<rect x="916" y="279" width="1" height="43" fill="#000" />
<rect x="914" y="281" width="5" height="25" fill="#000" />
<rect x="924" y="286" width="1" height="29" fill="#000" />
<rect x="922" y="296" width="5" height="11" fill="#000" />
<rect x="923" y="297" width="3" height="9" fill="#fff" />
<rect x="932" y="275" width="1" height="22" fill="#000" />
<rect x="930" y="279" width="5" height="17" fill="#000" />
<rect x="931" y="280" width="3" height="15" fill="#fff" />
<rect x="940" y="258" width="1" height="30" fill="#000" />
<rect x="938" y="271" width="5" height="9" fill="#000" />
<rect x="939" y="272" width="3" height="7" fill="#fff" />
<rect x="948" y="265" width="1" height="16" fill="#000" />
<rect x="946" y="271" width="5" height="6" fill="#000" />
<rect x="956" y="252" width="1" height="28" fill="#000" />
<rect x="954" y="261" width="5" height="15" fill="#000" />
<rect x="955" y="262" width="3" height="13" fill="#fff" />
<rect x="964" y="257" width="1" height="33" fill="#000" />
<rect x="962" y="262" width="5" height="19" fill="#000" />
<rect x="972" y="270" width="1" height="33" fill="#000" />
<rect x="970" y="281" width="5" height="14" fill="#000" />
<rect x="980" y="259" width="1" height="35" fill="#000" />
<rect x="978" y="284" width="5" height="10" fill="#000" />
<rect x="979" y="285" width="3" height="8" fill="#fff" />
<rect x="988" y="229" width="1" height="121" fill="#000" />
<rect x="986" y="235" width="5" height="50" fill="#000" />
<rect x="987" y="236" width="3" height="48" fill="#fff" />
<rect x="996" y="232" width="1" height="34" fill="#000" />
<rect x="994" y="236" width="5" height="11" fill="#000" />
<rect x="1004" y="232" width="1" height="21" fill="#000" />
<rect x="1002" y="234" width="5" height="12" fill="#000" />
<rect x="1003" y="235" width="3" height="10" fill="#fff" />
<rect x="1012" y="190" width="1" height="46" fill="#000" />
<rect x="1010" y="204" width="5" height="31" fill="#000" />
<rect x="1011" y="205" width="3" height="29" fill="#fff" />
<rect x="1020" y="145" width="1" height="63" fill="#000" />
<rect x="1018" y="150" width="5" height="55" fill="#000" />
<rect x="1019" y="151" width="3" height="53" fill="#fff" />
<rect x="1028" y="150" width="1" height="32" fill="#000" />
<rect x="1026" y="150" width="5" height="8" fill="#000" />
<rect x="1036" y="153" width="1" height="125" fill="#000" />
<rect x="1034" y="158" width="5" height="84" fill="#000" />
<rect x="1044" y="235" width="1" height="32" fill="#000" />
<rect x="1042" y="241" width="5" height="5" fill="#000" />
<rect x="1052" y="223" width="1" height="29" fill="#000" />
<rect x="1050" y="225" width="5" height="21" fill="#000" />
<rect x="1051" y="226" width="3" height="19" fill="#fff" />
<rect x="1060" y="218" width="1" height="51" fill="#000" />
<rect x="1058" y="225" width="5" height="22" fill="#000" />
<rect x="1068" y="229" width="1" height="33" fill="#000" />
<rect x="1066" y="246" width="5" height="2" fill="#000" />
<rect x="1076" y="240" width="1" height="21" fill="#000" />
<rect x="1074" y="246" width="5" height="4" fill="#000" />
<rect x="1084" y="226" width="1" height="34" fill="#000" />
<rect x="1082" y="244" width="5" height="5" fill="#000" />
<rect x="1083" y="245" width="3" height="3" fill="#fff" />
<rect x="1092" y="241" width="1" height="25" fill="#000" />
<rect x="1090" y="245" width="5" height="21" fill="#000" />
<rect x="1100" y="257" width="1" height="13" fill="#000" />
<rect x="1098" y="261" width="5" height="4" fill="#000" />
<rect x="1099" y="262" width="3" height="2" fill="#fff" />
<rect x="1108" y="230" width="1" height="69" fill="#000" />
<rect x="1106" y="245" width="5" height="17" fill="#000" />
<rect x="1107" y="246" width="3" height="15" fill="#fff" />
<rect x="1116" y="236" width="1" height="30" fill="#000" />
<rect x="1114" y="241" width="5" height="5" fill="#000" />
<rect x="1115" y="242" width="3" height="3" fill="#fff" />
<rect x="1124" y="238" width="1" height="35" fill="#000" />
<rect x="1122" y="240" width="5" height="21" fill="#000" />
<rect x="1132" y="255" width="1" height="94" fill="#000" />
<rect x="1130" y="259" width="5" height="75" fill="#000" />
<rect x="1140" y="331" width="1" height="17" fill="#000" />
<rect x="1138" y="335" width="5" height="5" fill="#000" />
<rect x="1148" y="301" width="1" height="12" fill="#000" />
<rect x="1146" y="301" width="5" height="5" fill="#000" />
<rect x="1147" y="302" width="3" height="3" fill="#fff" />
<rect x="1156" y="287" width="1" height="24" fill="#000" />
<rect x="1154" y="290" width="5" height="12" fill="#000" />
<rect x="1155" y="291" width="3" height="10" fill="#fff" />
<rect x="1164" y="261" width="1" height="42" fill="#000" />
<rect x="1162" y="275" width="5" height="15" fill="#000" />
<rect x="1163" y="276" width="3" height="13" fill="#fff" />
<rect x="1172" y="265" width="1" height="22" fill="#000" />
<rect x="1170" y="273" width="5" height="9" fill="#000" />
<rect x="1180" y="278" width="1" height="14" fill="#000" />
<rect x="1178" y="284" width="5" height="2" fill="#000" />
<rect x="1188" y="282" width="1" height="9" fill="#000" />
<rect x="1186" y="285" width="5" height="2" fill="#000" />
<rect x="1196" y="281" width="1" height="15" fill="#000" />
<rect x="1194" y="287" width="5" height="5" fill="#000" />
<rect x="1204" y="287" width="1" height="38" fill="#000" />
<rect x="1202" y="292" width="5" height="6" fill="#000" />
<rect x="1212" y="257" width="1" height="47" fill="#000" />
<rect x="1210" y="272" width="5" height="26" fill="#000" />
<rect x="1211" y="273" width="3" height="24" fill="#fff" />
<rect x="1220" y="236" width="1" height="38" fill="#000" />
<rect x="1218" y="241" width="5" height="33" fill="#000" />
<rect x="1219" y="242" width="3" height="31" fill="#fff" />
<rect x="1228" y="185" width="1" height="59" fill="#000" />
<rect x="1226" y="206" width="5" height="37" fill="#000" />
<rect x="1227" y="207" width="3" height="35" fill="#fff" />
<rect x="1236" y="170" width="1" height="43" fill="#000" />
<rect x="1234" y="178" width="5" height="28" fill="#000" />
<rect x="1235" y="179" width="3" height="26" fill="#fff" />
<rect x="1244" y="168" width="1" height="21" fill="#000" />
<rect x="1242" y="176" width="5" height="3" fill="#000" />
<rect x="1243" y="177" width="3" height="1" fill="#fff" />
<rect x="1252" y="167" width="1" height="20" fill="#000" />
<rect x="1250" y="175" width="5" height="3" fill="#000" />
<rect x="1260" y="139" width="1" height="68" fill="#000" />
<rect x="1258" y="177" width="5" height="11" fill="#000" />
<rect x="1268" y="170" width="1" height="44" fill="#000" />
<rect x="1266" y="175" width="5" height="14" fill="#000" />
<rect x="1267" y="176" width="3" height="12" fill="#fff" />
<rect x="1276" y="152" width="1" height="61" fill="#000" />
<rect x="1274" y="169" width="5" height="8" fill="#000" />
<rect x="1275" y="170" width="3" height="6" fill="#fff" />
<rect x="1284" y="164" width="1" height="43" fill="#000" />
<rect x="1282" y="169" width="5" height="17" fill="#000" />
<rect x="1292" y="181" width="1" height="14" fill="#000" />
<rect x="1290" y="183" width="5" height="12" fill="#000" />
<rect x="1300" y="181" width="1" height="44" fill="#000" />
<rect x="1298" y="194" width="5" height="7" fill="#000" />
<rect x="1308" y="198" width="1" height="77" fill="#000" />
<rect x="1306" y="200" width="5" height="61" fill="#000" />
<rect x="1316" y="258" width="1" height="28" fill="#000" />
<rect x="1314" y="260" width="5" height="23" fill="#000" />
<rect x="1324" y="258" width="1" height="52" fill="#000" />
<rect x="1322" y="282" width="5" height="25" fill="#000" />
<rect x="1332" y="306" width="1" height="36" fill="#000" />
<rect x="1330" y="306" width="5" height="18" fill="#000" />
<rect x="1340" y="295" width="1" height="35" fill="#000" />
<rect x="1338" y="303" width="5" height="21" fill="#000" />
<rect x="1339" y="304" width="3" height="19" fill="#fff" />
<rect x="1348" y="279" width="1" height="44" fill="#000" />
<rect x="1346" y="279" width="5" height="26" fill="#000" />
<rect x="1347" y="280" width="3" height="24" fill="#fff" />
<rect x="1356" y="251" width="1" height="36" fill="#000" />
<rect x="1354" y="262" width="5" height="18" fill="#000" />
<rect x="1355" y="263" width="3" height="16" fill="#fff" />
<rect x="1364" y="253" width="1" height="31" fill="#000" />
<rect x="1362" y="262" width="5" height="19" fill="#000" />
<rect x="1372" y="262" width="1" height="39" fill="#000" />
<rect x="1370" y="264" width="5" height="17" fill="#000" />
<rect x="1371" y="265" width="3" height="15" fill="#fff" />
<rect x="1380" y="262" width="1" height="14" fill="#000" />
<rect x="1378" y="264" width="5" height="8" fill="#000" />
<rect x="1388" y="265" width="1" height="19" fill="#000" />
<rect x="1386" y="268" width="5" height="12" fill="#000" />
<rect x="1387" y="269" width="3" height="10" fill="#fff" />
<rect x="1396" y="262" width="1" height="14" fill="#000" />
<rect x="1394" y="262" width="5" height="8" fill="#000" />
<rect x="1395" y="263" width="3" height="6" fill="#fff" />
<rect x="1404" y="209" width="1" height="60" fill="#000" />
<rect x="1402" y="228" width="5" height="34" fill="#000" />
<rect x="1403" y="229" width="3" height="32" fill="#fff" />
<rect x="1412" y="214" width="1" height="17" fill="#000" />
<rect x="1410" y="224" width="5" height="4" fill="#000" />
<rect x="1411" y="225" width="3" height="2" fill="#fff" />
<rect x="1420" y="223" width="1" height="51" fill="#000" />
<rect x="1418" y="225" width="5" height="32" fill="#000" />
<rect x="1428" y="240" width="1" height="23" fill="#000" />
<rect x="1426" y="245" width="5" height="11" fill="#000" />
<rect x="1427" y="246" width="3" height="9" fill="#fff" />
<rect x="1436" y="243" width="1" height="20" fill="#000" />
<rect x="1434" y="245" width="5" height="2" fill="#000" />
<rect x="1444" y="246" width="1" height="3" fill="#000" />
<rect x="1442" y="246" width="5" height="2" fill="#000" />
</g>
<rect x="5.5" y="552.5" width="61" height="18" fill="#fff" stroke="#ff0000" stroke-width="1" shape-rendering="crispEdges"/>
<text x="7.9" y="567.66" font-family="Liberation Serif" font-size="17.5px" font-weight="normal" fill="#ff0000" text-anchor="start" textLength="57.0" lengthAdjust="spacingAndGlyphs" >108.714</text>
<rect x="67" y="561" width="9" height="1" fill="#ff0000" shape-rendering="crispEdges"/>
<rect x="949.5" y="136.5" width="61" height="18" fill="#fff" stroke="#ff0000" stroke-width="1" shape-rendering="crispEdges"/>
<text x="951.9" y="151.66" font-family="Liberation Serif" font-size="17.5px" font-weight="normal" fill="#ff0000" text-anchor="start" textLength="57.0" lengthAdjust="spacingAndGlyphs" >110.413</text>
<rect x="1011" y="145" width="10" height="1" fill="#ff0000" shape-rendering="crispEdges"/>
<rect x="1189.5" y="129.5" width="61" height="18" fill="#fff" stroke="#ff0000" stroke-width="1" shape-rendering="crispEdges"/>
<text x="1191.9" y="144.66" font-family="Liberation Serif" font-size="17.5px" font-weight="normal" fill="#ff0000" text-anchor="start" textLength="57.0" lengthAdjust="spacingAndGlyphs" >110.441</text>
<rect x="1251" y="138" width="10" height="1" fill="#ff0000" shape-rendering="crispEdges"/>
<rect x="1261.5" y="332.5" width="61" height="18" fill="#fff" stroke="#ff0000" stroke-width="1" shape-rendering="crispEdges"/>
<text x="1263.9" y="347.66" font-family="Liberation Serif" font-size="17.5px" font-weight="normal" fill="#ff0000" text-anchor="start" textLength="57.0" lengthAdjust="spacingAndGlyphs" >109.614</text>
<rect x="1323" y="341" width="10" height="1" fill="#ff0000" shape-rendering="crispEdges"/>
<rect x="1333.5" y="200.5" width="61" height="18" fill="#fff" stroke="#ff0000" stroke-width="1" shape-rendering="crispEdges"/>
<text x="1335.9" y="215.66" font-family="Liberation Serif" font-size="17.5px" font-weight="normal" fill="#ff0000" text-anchor="start" textLength="57.0" lengthAdjust="spacingAndGlyphs" >110.152</text>
<rect x="1399" y="209" width="6" height="1" fill="#ff0000" shape-rendering="crispEdges"/>
<rect x="1395.5" y="207.5" width="3" height="3" fill="#fff" stroke="#ff0000" stroke-width="1" shape-rendering="crispEdges"/>
<g clip-path="url(#cm)"><line x1="1023.0" y1="145.0" x2="1127.8" y2="324.4" stroke="#ff0000" stroke-width="3.4"/><path d="M1132.8 333.0 L1122.7 325.0 L1130.8 320.3 Z" fill="#ff0000"/></g>
<g clip-path="url(#cm)"><line x1="1129.0" y1="342.5" x2="1259.8" y2="159.4" stroke="#ff0000" stroke-width="3.4"/><path d="M1265.6 151.3 L1262.4 163.8 L1254.8 158.3 Z" fill="#ff0000"/></g>
<g clip-path="url(#cm)"><line x1="1265.6" y1="151.3" x2="1343.5" y2="332.2" stroke="#ff0000" stroke-width="3.4"/><path d="M1347.5 341.4 L1338.4 332.2 L1347.1 328.5 Z" fill="#ff0000"/></g>
<g clip-path="url(#cm)"><line x1="1347.5" y1="341.4" x2="1437.1" y2="240.7" stroke="#ff0000" stroke-width="3.4"/><path d="M1443.7 233.2 L1439.2 245.3 L1432.2 239.0 Z" fill="#ff0000"/></g>
<rect x="1328" y="254" width="167" height="8" fill="#00ff00" shape-rendering="crispEdges"/>
<rect x="1533.5" y="261.5" width="110" height="24" fill="none" stroke="#404040" stroke-width="1" shape-rendering="crispEdges"/>
<text x="1534.2" y="280.55" font-family="'Liberation Sans','Noto Sans CJK SC',sans-serif" font-size="20.4px" fill="#00ff00" textLength="109.2" lengthAdjust="spacing">多空转折点</text>
<path d="M1585.5 261 L1587.5 258.5 L1589.5 261" fill="none" stroke="#32cd32" stroke-width="1"/>
<rect x="1655" y="43" width="2" height="1" fill="#000" shape-rendering="crispEdges"/>
<text x="1660.5" y="46.74" font-family="Liberation Sans" font-size="9.6px" font-weight="normal" fill="#000" text-anchor="start" textLength="32.5" lengthAdjust="spacingAndGlyphs" stroke="#000" stroke-width="0.15">110.830</text>
<rect x="1655" y="76" width="2" height="1" fill="#000" shape-rendering="crispEdges"/>
<text x="1660.5" y="79.80" font-family="Liberation Sans" font-size="9.6px" font-weight="normal" fill="#000" text-anchor="start" textLength="32.5" lengthAdjust="spacingAndGlyphs" stroke="#000" stroke-width="0.15">110.695</text>
<rect x="1655" y="109" width="2" height="1" fill="#000" shape-rendering="crispEdges"/>
<text x="1660.5" y="112.86" font-family="Liberation Sans" font-size="9.6px" font-weight="normal" fill="#000" text-anchor="start" textLength="32.5" lengthAdjust="spacingAndGlyphs" stroke="#000" stroke-width="0.15">110.560</text>
<rect x="1655" y="142" width="2" height="1" fill="#000" shape-rendering="crispEdges"/>
<text x="1660.5" y="145.92" font-family="Liberation Sans" font-size="9.6px" font-weight="normal" fill="#000" text-anchor="start" textLength="32.5" lengthAdjust="spacingAndGlyphs" stroke="#000" stroke-width="0.15">110.425</text>
<rect x="1655" y="175" width="2" height="1" fill="#000" shape-rendering="crispEdges"/>
<text x="1660.5" y="178.99" font-family="Liberation Sans" font-size="9.6px" font-weight="normal" fill="#000" text-anchor="start" textLength="32.5" lengthAdjust="spacingAndGlyphs" stroke="#000" stroke-width="0.15">110.290</text>
<rect x="1655" y="208" width="2" height="1" fill="#000" shape-rendering="crispEdges"/>
<text x="1660.5" y="212.05" font-family="Liberation Sans" font-size="9.6px" font-weight="normal" fill="#000" text-anchor="start" textLength="32.5" lengthAdjust="spacingAndGlyphs" stroke="#000" stroke-width="0.15">110.155</text>
<rect x="1655" y="241" width="2" height="1" fill="#000" shape-rendering="crispEdges"/>
<text x="1660.5" y="245.11" font-family="Liberation Sans" font-size="9.6px" font-weight="normal" fill="#000" text-anchor="start" textLength="32.5" lengthAdjust="spacingAndGlyphs" stroke="#000" stroke-width="0.15">110.020</text>
<rect x="1655" y="274" width="2" height="1" fill="#000" shape-rendering="crispEdges"/>
<text x="1660.5" y="278.17" font-family="Liberation Sans" font-size="9.6px" font-weight="normal" fill="#000" text-anchor="start" textLength="32.5" lengthAdjust="spacingAndGlyphs" stroke="#000" stroke-width="0.15">109.885</text>
<rect x="1655" y="308" width="2" height="1" fill="#000" shape-rendering="crispEdges"/>
<text x="1660.5" y="311.24" font-family="Liberation Sans" font-size="9.6px" font-weight="normal" fill="#000" text-anchor="start" textLength="32.5" lengthAdjust="spacingAndGlyphs" stroke="#000" stroke-width="0.15">109.750</text>
<rect x="1655" y="341" width="2" height="1" fill="#000" shape-rendering="crispEdges"/>
<text x="1660.5" y="344.30" font-family="Liberation Sans" font-size="9.6px" font-weight="normal" fill="#000" text-anchor="start" textLength="32.5" lengthAdjust="spacingAndGlyphs" stroke="#000" stroke-width="0.15">109.615</text>
<rect x="1655" y="374" width="2" height="1" fill="#000" shape-rendering="crispEdges"/>
<text x="1660.5" y="377.36" font-family="Liberation Sans" font-size="9.6px" font-weight="normal" fill="#000" text-anchor="start" textLength="32.5" lengthAdjust="spacingAndGlyphs" stroke="#000" stroke-width="0.15">109.480</text>
<rect x="1655" y="407" width="2" height="1" fill="#000" shape-rendering="crispEdges"/>
<text x="1660.5" y="410.42" font-family="Liberation Sans" font-size="9.6px" font-weight="normal" fill="#000" text-anchor="start" textLength="32.5" lengthAdjust="spacingAndGlyphs" stroke="#000" stroke-width="0.15">109.345</text>
<rect x="1655" y="440" width="2" height="1" fill="#000" shape-rendering="crispEdges"/>
<text x="1660.5" y="443.49" font-family="Liberation Sans" font-size="9.6px" font-weight="normal" fill="#000" text-anchor="start" textLength="32.5" lengthAdjust="spacingAndGlyphs" stroke="#000" stroke-width="0.15">109.210</text>
<rect x="1655" y="473" width="2" height="1" fill="#000" shape-rendering="crispEdges"/>
<text x="1660.5" y="476.55" font-family="Liberation Sans" font-size="9.6px" font-weight="normal" fill="#000" text-anchor="start" textLength="32.5" lengthAdjust="spacingAndGlyphs" stroke="#000" stroke-width="0.15">109.075</text>
<rect x="1655" y="506" width="2" height="1" fill="#000" shape-rendering="crispEdges"/>
<text x="1660.5" y="509.61" font-family="Liberation Sans" font-size="9.6px" font-weight="normal" fill="#000" text-anchor="start" textLength="32.5" lengthAdjust="spacingAndGlyphs" stroke="#000" stroke-width="0.15">108.940</text>
<rect x="1655" y="539" width="2" height="1" fill="#000" shape-rendering="crispEdges"/>
<text x="1660.5" y="542.67" font-family="Liberation Sans" font-size="9.6px" font-weight="normal" fill="#000" text-anchor="start" textLength="32.5" lengthAdjust="spacingAndGlyphs" stroke="#000" stroke-width="0.15">108.805</text>
<rect x="1655" y="572" width="2" height="1" fill="#000" shape-rendering="crispEdges"/>
<text x="1660.5" y="575.74" font-family="Liberation Sans" font-size="9.6px" font-weight="normal" fill="#000" text-anchor="start" textLength="32.5" lengthAdjust="spacingAndGlyphs" stroke="#000" stroke-width="0.15">108.670</text>
<rect x="1656" y="190" width="41" height="11" fill="#ff0000" shape-rendering="crispEdges"/>
<text x="1660.5" y="199.18" font-family="Liberation Sans" font-size="10px" font-weight="normal" fill="#fff" text-anchor="start" textLength="32.3" lengthAdjust="spacingAndGlyphs" >110.205</text>
<rect x="1656" y="213" width="41" height="11" fill="#ff0000" shape-rendering="crispEdges"/>
<text x="1660.5" y="222.18" font-family="Liberation Sans" font-size="10px" font-weight="normal" fill="#fff" text-anchor="start" textLength="32.3" lengthAdjust="spacingAndGlyphs" >110.111</text>
<rect x="1656" y="242" width="41" height="10" fill="#000000" shape-rendering="crispEdges"/>
<text x="1660.5" y="250.58" font-family="Liberation Sans" font-size="10px" font-weight="normal" fill="#fff" text-anchor="start" textLength="32.3" lengthAdjust="spacingAndGlyphs" >109.999</text>
<rect x="1656" y="252" width="41" height="11" fill="#32cd32" shape-rendering="crispEdges"/>
<text x="1660.5" y="261.18" font-family="Liberation Sans" font-size="10px" font-weight="normal" fill="#fff" text-anchor="start" textLength="32.3" lengthAdjust="spacingAndGlyphs" >109.952</text>
<rect x="1656" y="273" width="41" height="11" fill="#0000ff" shape-rendering="crispEdges"/>
<text x="1660.5" y="282.18" font-family="Liberation Sans" font-size="10px" font-weight="normal" fill="#fff" text-anchor="start" textLength="32.3" lengthAdjust="spacingAndGlyphs" >109.867</text>
<rect x="1656" y="296" width="41" height="11" fill="#0000ff" shape-rendering="crispEdges"/>
<text x="1660.5" y="305.18" font-family="Liberation Sans" font-size="10px" font-weight="normal" fill="#fff" text-anchor="start" textLength="32.3" lengthAdjust="spacingAndGlyphs" >109.773</text>
<g shape-rendering="crispEdges">
<rect x="4" y="661" width="1" height="47" fill="#c0c0c0" />
<rect x="12" y="661" width="1" height="51" fill="#c0c0c0" />
<rect x="20" y="661" width="1" height="53" fill="#c0c0c0" />
<rect x="28" y="661" width="1" height="56" fill="#c0c0c0" />
<rect x="36" y="661" width="1" height="58" fill="#c0c0c0" />
<rect x="44" y="661" width="1" height="61" fill="#c0c0c0" />
<rect x="52" y="661" width="1" height="61" fill="#c0c0c0" />
<rect x="60" y="661" width="1" height="59" fill="#c0c0c0" />
<rect x="68" y="661" width="1" height="59" fill="#c0c0c0" />
<rect x="76" y="661" width="1" height="49" fill="#c0c0c0" />
<rect x="84" y="661" width="1" height="39" fill="#c0c0c0" />
<rect x="92" y="661" width="1" height="30" fill="#c0c0c0" />
<rect x="100" y="661" width="1" height="19" fill="#c0c0c0" />
<rect x="108" y="661" width="1" height="13" fill="#c0c0c0" />
<rect x="116" y="661" width="1" height="11" fill="#c0c0c0" />
<rect x="124" y="661" width="1" height="1" fill="#c0c0c0" />
<rect x="132" y="656" width="1" height="6" fill="#c0c0c0" />
<rect x="140" y="651" width="1" height="11" fill="#c0c0c0" />
<rect x="148" y="644" width="1" height="18" fill="#c0c0c0" />
<rect x="156" y="642" width="1" height="20" fill="#c0c0c0" />
<rect x="164" y="640" width="1" height="22" fill="#c0c0c0" />
<rect x="172" y="627" width="1" height="35" fill="#c0c0c0" />
<rect x="180" y="618" width="1" height="44" fill="#c0c0c0" />
<rect x="188" y="611" width="1" height="51" fill="#c0c0c0" />
<rect x="196" y="607" width="1" height="55" fill="#c0c0c0" />
<rect x="204" y="605" width="1" height="57" fill="#c0c0c0" />
<rect x="212" y="606" width="1" height="56" fill="#c0c0c0" />
<rect x="220" y="604" width="1" height="58" fill="#c0c0c0" />
<rect x="228" y="601" width="1" height="61" fill="#c0c0c0" />
<rect x="236" y="600" width="1" height="62" fill="#c0c0c0" />
<rect x="244" y="599" width="1" height="63" fill="#c0c0c0" />
<rect x="252" y="597" width="1" height="65" fill="#c0c0c0" />
<rect x="260" y="595" width="1" height="67" fill="#c0c0c0" />
<rect x="268" y="593" width="1" height="69" fill="#c0c0c0" />
<rect x="276" y="591" width="1" height="71" fill="#c0c0c0" />
<rect x="284" y="591" width="1" height="71" fill="#c0c0c0" />
<rect x="292" y="590" width="1" height="72" fill="#c0c0c0" />
<rect x="300" y="587" width="1" height="75" fill="#c0c0c0" />
<rect x="308" y="587" width="1" height="75" fill="#c0c0c0" />
<rect x="316" y="594" width="1" height="68" fill="#c0c0c0" />
<rect x="324" y="601" width="1" height="61" fill="#c0c0c0" />
<rect x="332" y="608" width="1" height="54" fill="#c0c0c0" />
<rect x="340" y="614" width="1" height="48" fill="#c0c0c0" />
<rect x="348" y="619" width="1" height="43" fill="#c0c0c0" />
<rect x="356" y="623" width="1" height="39" fill="#c0c0c0" />
<rect x="364" y="627" width="1" height="35" fill="#c0c0c0" />
<rect x="372" y="630" width="1" height="32" fill="#c0c0c0" />
<rect x="380" y="633" width="1" height="29" fill="#c0c0c0" />
<rect x="388" y="636" width="1" height="26" fill="#c0c0c0" />
<rect x="396" y="640" width="1" height="22" fill="#c0c0c0" />
<rect x="404" y="646" width="1" height="16" fill="#c0c0c0" />
<rect x="412" y="661" width="1" height="1" fill="#c0c0c0" />
<rect x="420" y="661" width="1" height="15" fill="#c0c0c0" />
<rect x="428" y="661" width="1" height="27" fill="#c0c0c0" />
<rect x="436" y="661" width="1" height="41" fill="#c0c0c0" />
<rect x="444" y="661" width="1" height="51" fill="#c0c0c0" />
<rect x="452" y="661" width="1" height="59" fill="#c0c0c0" />
<rect x="460" y="661" width="1" height="67" fill="#c0c0c0" />
<rect x="468" y="661" width="1" height="74" fill="#c0c0c0" />
<rect x="476" y="661" width="1" height="77" fill="#c0c0c0" />
<rect x="484" y="661" width="1" height="78" fill="#c0c0c0" />
<rect x="492" y="661" width="1" height="77" fill="#c0c0c0" />
<rect x="500" y="661" width="1" height="77" fill="#c0c0c0" />
<rect x="508" y="661" width="1" height="68" fill="#c0c0c0" />
<rect x="516" y="661" width="1" height="61" fill="#c0c0c0" />
<rect x="524" y="661" width="1" height="56" fill="#c0c0c0" />
<rect x="532" y="661" width="1" height="49" fill="#c0c0c0" />
<rect x="540" y="661" width="1" height="44" fill="#c0c0c0" />
<rect x="548" y="661" width="1" height="36" fill="#c0c0c0" />
<rect x="556" y="661" width="1" height="25" fill="#c0c0c0" />
<rect x="564" y="661" width="1" height="20" fill="#c0c0c0" />
<rect x="572" y="661" width="1" height="14" fill="#c0c0c0" />
<rect x="580" y="661" width="1" height="1" fill="#c0c0c0" />
<rect x="588" y="661" width="1" height="1" fill="#c0c0c0" />
<rect x="596" y="661" width="1" height="5" fill="#c0c0c0" />
<rect x="604" y="661" width="1" height="5" fill="#c0c0c0" />
<rect x="612" y="661" width="1" height="3" fill="#c0c0c0" />
<rect x="620" y="661" width="1" height="2" fill="#c0c0c0" />
<rect x="628" y="661" width="1" height="2" fill="#c0c0c0" />
<rect x="636" y="661" width="1" height="5" fill="#c0c0c0" />
<rect x="644" y="661" width="1" height="4" fill="#c0c0c0" />
<rect x="652" y="661" width="1" height="4" fill="#c0c0c0" />
<rect x="660" y="661" width="1" height="2" fill="#c0c0c0" />
<rect x="668" y="661" width="1" height="1" fill="#c0c0c0" />
<rect x="676" y="659" width="1" height="3" fill="#c0c0c0" />
<rect x="684" y="656" width="1" height="6" fill="#c0c0c0" />
<rect x="692" y="649" width="1" height="13" fill="#c0c0c0" />
<rect x="700" y="651" width="1" height="11" fill="#c0c0c0" />
<rect x="708" y="656" width="1" height="6" fill="#c0c0c0" />
<rect x="716" y="660" width="1" height="2" fill="#c0c0c0" />
<rect x="724" y="660" width="1" height="2" fill="#c0c0c0" />
<rect x="732" y="661" width="1" height="1" fill="#c0c0c0" />
<rect x="740" y="661" width="1" height="1" fill="#c0c0c0" />
<rect x="748" y="661" width="1" height="3" fill="#c0c0c0" />
<rect x="756" y="661" width="1" height="5" fill="#c0c0c0" />
<rect x="764" y="661" width="1" height="5" fill="#c0c0c0" />
<rect x="772" y="661" width="1" height="3" fill="#c0c0c0" />
<rect x="780" y="661" width="1" height="2" fill="#c0c0c0" />
<rect x="788" y="661" width="1" height="1" fill="#c0c0c0" />
<rect x="796" y="655" width="1" height="7" fill="#c0c0c0" />
<rect x="804" y="652" width="1" height="10" fill="#c0c0c0" />
<rect x="812" y="649" width="1" height="13" fill="#c0c0c0" />
<rect x="820" y="648" width="1" height="14" fill="#c0c0c0" />
<rect x="828" y="643" width="1" height="19" fill="#c0c0c0" />
<rect x="836" y="639" width="1" height="23" fill="#c0c0c0" />
<rect x="844" y="638" width="1" height="24" fill="#c0c0c0" />
<rect x="852" y="638" width="1" height="24" fill="#c0c0c0" />
<rect x="860" y="638" width="1" height="24" fill="#c0c0c0" />
<rect x="868" y="640" width="1" height="22" fill="#c0c0c0" />
<rect x="876" y="639" width="1" height="23" fill="#c0c0c0" />
<rect x="884" y="638" width="1" height="24" fill="#c0c0c0" />
<rect x="892" y="644" width="1" height="18" fill="#c0c0c0" />
<rect x="900" y="649" width="1" height="13" fill="#c0c0c0" />
<rect x="908" y="652" width="1" height="10" fill="#c0c0c0" />
<rect x="916" y="658" width="1" height="4" fill="#c0c0c0" />
<rect x="924" y="661" width="1" height="1" fill="#c0c0c0" />
<rect x="932" y="661" width="1" height="1" fill="#c0c0c0" />
<rect x="940" y="661" width="1" height="1" fill="#c0c0c0" />
<rect x="956" y="661" width="1" height="1" fill="#c0c0c0" />
<rect x="972" y="661" width="1" height="2" fill="#c0c0c0" />
<rect x="980" y="661" width="1" height="3" fill="#c0c0c0" />
<rect x="988" y="661" width="1" height="1" fill="#c0c0c0" />
<rect x="996" y="658" width="1" height="4" fill="#c0c0c0" />
<rect x="1004" y="655" width="1" height="7" fill="#c0c0c0" />
<rect x="1012" y="650" width="1" height="12" fill="#c0c0c0" />
<rect x="1020" y="642" width="1" height="20" fill="#c0c0c0" />
<rect x="1028" y="636" width="1" height="26" fill="#c0c0c0" />
<rect x="1036" y="639" width="1" height="23" fill="#c0c0c0" />
<rect x="1044" y="642" width="1" height="20" fill="#c0c0c0" />
<rect x="1052" y="643" width="1" height="19" fill="#c0c0c0" />
<rect x="1060" y="646" width="1" height="16" fill="#c0c0c0" />
<rect x="1068" y="649" width="1" height="13" fill="#c0c0c0" />
<rect x="1076" y="651" width="1" height="11" fill="#c0c0c0" />
<rect x="1084" y="653" width="1" height="9" fill="#c0c0c0" />
<rect x="1092" y="656" width="1" height="6" fill="#c0c0c0" />
<rect x="1100" y="658" width="1" height="4" fill="#c0c0c0" />
<rect x="1108" y="659" width="1" height="3" fill="#c0c0c0" />
<rect x="1116" y="658" width="1" height="4" fill="#c0c0c0" />
<rect x="1124" y="660" width="1" height="2" fill="#c0c0c0" />
<rect x="1132" y="661" width="1" height="7" fill="#c0c0c0" />
<rect x="1140" y="661" width="1" height="14" fill="#c0c0c0" />
<rect x="1148" y="661" width="1" height="15" fill="#c0c0c0" />
<rect x="1156" y="661" width="1" height="15" fill="#c0c0c0" />
<rect x="1164" y="661" width="1" height="14" fill="#c0c0c0" />
<rect x="1172" y="661" width="1" height="13" fill="#c0c0c0" />
<rect x="1180" y="661" width="1" height="13" fill="#c0c0c0" />
<rect x="1188" y="661" width="1" height="13" fill="#c0c0c0" />
<rect x="1196" y="661" width="1" height="14" fill="#c0c0c0" />
<rect x="1204" y="661" width="1" height="15" fill="#c0c0c0" />
<rect x="1212" y="661" width="1" height="11" fill="#c0c0c0" />
<rect x="1220" y="661" width="1" height="6" fill="#c0c0c0" />
<rect x="1228" y="661" width="1" height="1" fill="#c0c0c0" />
<rect x="1236" y="653" width="1" height="9" fill="#c0c0c0" />
<rect x="1244" y="646" width="1" height="16" fill="#c0c0c0" />
<rect x="1252" y="641" width="1" height="21" fill="#c0c0c0" />
<rect x="1260" y="639" width="1" height="23" fill="#c0c0c0" />
<rect x="1268" y="636" width="1" height="26" fill="#c0c0c0" />
<rect x="1276" y="633" width="1" height="29" fill="#c0c0c0" />
<rect x="1284" y="633" width="1" height="29" fill="#c0c0c0" />
<rect x="1292" y="634" width="1" height="28" fill="#c0c0c0" />
<rect x="1300" y="636" width="1" height="26" fill="#c0c0c0" />
<rect x="1308" y="643" width="1" height="19" fill="#c0c0c0" />
<rect x="1316" y="651" width="1" height="11" fill="#c0c0c0" />
<rect x="1324" y="660" width="1" height="2" fill="#c0c0c0" />
<rect x="1332" y="661" width="1" height="6" fill="#c0c0c0" />
<rect x="1340" y="661" width="1" height="10" fill="#c0c0c0" />
<rect x="1348" y="661" width="1" height="11" fill="#c0c0c0" />
<rect x="1356" y="661" width="1" height="10" fill="#c0c0c0" />
<rect x="1364" y="661" width="1" height="10" fill="#c0c0c0" />
<rect x="1372" y="661" width="1" height="9" fill="#c0c0c0" />
<rect x="1380" y="661" width="1" height="8" fill="#c0c0c0" />
<rect x="1388" y="661" width="1" height="8" fill="#c0c0c0" />
<rect x="1396" y="661" width="1" height="7" fill="#c0c0c0" />
<rect x="1404" y="661" width="1" height="4" fill="#c0c0c0" />
<rect x="1412" y="661" width="1" height="2" fill="#c0c0c0" />
<rect x="1420" y="661" width="1" height="1" fill="#c0c0c0" />
<rect x="1428" y="661" width="1" height="1" fill="#c0c0c0" />
</g>
<polyline points="2.0,699.4 10.0,700.0 20.0,702.4 28.0,706.4 36.0,709.0 44.0,711.8 52.0,715.4 60.0,716.8 68.0,718.0 76.0,717.8 86.0,716.4 96.0,712.4 106.0,706.4 116.0,699.4 124.0,693.4 130.0,688.4 140.0,678.4 148.0,671.4 156.0,664.4 164.0,657.4 172.0,652.4 180.0,645.4 188.0,639.0 196.0,633.4 204.0,627.4 212.0,621.9 220.0,618.1 228.0,613.5 236.0,609.5 244.0,605.9 252.0,604.1 260.0,601.9 268.0,599.9 276.0,598.9 284.0,597.5 292.0,594.9 300.0,593.5 308.0,592.5 316.0,592.1 324.0,592.1 332.0,592.8 342.0,596.5 352.0,599.9 362.0,605.5 372.0,610.5 382.0,616.5 392.0,622.5 402.0,628.5 412.0,634.0 420.0,640.4 430.0,650.4 440.0,661.4 450.0,673.4 460.0,685.4 470.0,698.4 480.0,711.4 490.0,721.4 500.0,728.3 508.0,731.9 520.0,732.9 530.0,731.3 540.0,726.9 550.0,721.4 560.0,713.4 570.0,706.4 580.0,696.4 590.0,688.4 600.0,681.4 610.0,675.4 620.0,670.4 630.0,667.4 642.0,666.0 654.0,666.0 662.0,666.0 672.0,664.0 684.0,662.8 692.0,661.8 700.0,660.0 710.0,659.0 716.0,657.8 726.0,657.0 744.0,657.0 754.0,658.8 764.0,660.4 772.0,663.0 784.0,663.8 796.0,663.0 804.0,661.8 814.0,659.8 826.0,657.0 836.0,653.0 844.0,649.8 854.0,645.8 862.0,644.4 870.0,642.4 880.0,641.0 890.0,639.8 904.0,641.0 912.0,643.0 920.0,644.4 928.0,647.4 940.0,650.8 950.0,654.0 960.0,657.8 972.0,660.4 984.0,662.0 993.0,662.0 1004.0,661.0 1014.0,659.8 1022.0,656.4 1030.0,654.4 1038.0,651.8 1050.0,647.4 1060.0,645.8 1070.0,644.8 1078.0,643.8 1090.0,645.4 1098.0,647.8 1108.0,650.8 1120.0,653.8 1132.0,656.8 1142.0,660.4 1150.0,663.4 1158.0,666.0 1168.0,668.8 1180.0,672.0 1190.0,673.4 1204.0,675.4 1216.0,674.4 1228.0,672.8 1238.0,668.8 1250.0,663.4 1260.0,658.4 1270.0,654.0 1280.0,647.4 1290.0,643.4 1298.0,639.4 1308.0,638.0 1316.0,638.8 1324.0,640.8 1330.0,642.8 1340.0,647.8 1350.0,653.0 1360.0,658.4 1370.0,664.4 1380.0,669.0 1388.0,670.5 1400.0,671.0 1412.0,670.5 1428.0,668.5 1444.0,667.0" fill="none" stroke="#ff0000" stroke-width="1" clip-path="url(#cmacd)" shape-rendering="crispEdges" stroke-dasharray="3.5 3.5"/>
<g clip-path="url(#cmacd)"><line x1="1327.0" y1="674.3" x2="1430.5" y2="668.7" stroke="#ff0000" stroke-width="3.2"/><path d="M1440.5 668.2 L1428.8 673.6 L1428.3 664.1 Z" fill="#ff0000"/></g>
<text x="1" y="590.36" font-family="Liberation Sans" font-size="10.5px" font-weight="normal" fill="#000" text-anchor="start" textLength="130.0" lengthAdjust="spacingAndGlyphs" >MACD(12,26,9) 0.0006 -0.0164</text>
<text x="1658.5" y="588.44" font-family="Liberation Sans" font-size="9.6px" font-weight="normal" fill="#000" text-anchor="start" textLength="27.3" lengthAdjust="spacingAndGlyphs" >0.2841</text>
<text x="1658.5" y="664.74" font-family="Liberation Sans" font-size="9.6px" font-weight="normal" fill="#000" text-anchor="start" textLength="18.0" lengthAdjust="spacingAndGlyphs" >0.00</text>
<text x="1658.5" y="744.34" font-family="Liberation Sans" font-size="9.6px" font-weight="normal" fill="#000" text-anchor="start" textLength="30.7" lengthAdjust="spacingAndGlyphs" >-0.2949</text>
<rect x="1655" y="661" width="2" height="1" fill="#000" />
<rect x="1655" y="579" width="1" height="1" fill="#000" />
<rect x="1655" y="746" width="1" height="1" fill="#000" />
<rect x="1655" y="751" width="1" height="1" fill="#000" />
<rect x="1655" y="922" width="1" height="1" fill="#000" />
<g shape-rendering="crispEdges">
<line x1="3" y1="785.5" x2="1654" y2="785.5" stroke="#c0c0c0" stroke-width="1" stroke-dasharray="3 3"/>
<line x1="3" y1="836.5" x2="1654" y2="836.5" stroke="#c0c0c0" stroke-width="1" stroke-dasharray="3 3"/>
<line x1="3" y1="897.5" x2="1654" y2="897.5" stroke="#c0c0c0" stroke-width="1" stroke-dasharray="3 3"/>
</g>
<polyline points="0.0,866.4 4.5,867.0 12.5,868.8 20.5,870.8 28.5,873.8 36.5,877.0 44.5,879.0 52.5,871.8 60.5,865.8 68.5,869.4 76.5,834.8 84.5,832.8 92.5,828.0 100.5,819.8 108.5,828.4 116.5,837.8 124.5,819.8 132.5,820.8 140.5,820.8 148.5,814.8 156.5,825.8 164.5,821.4 172.5,803.8 180.5,804.8 188.5,803.8 196.5,807.0 204.5,810.0 212.5,816.8 220.5,809.8 228.5,807.0 236.5,807.0 244.5,807.0 252.5,802.0 260.5,799.4 268.5,797.8 276.5,796.8 284.5,795.8 292.5,793.4 300.5,789.8 308.5,795.4 316.5,820.4 324.5,824.4 332.5,827.8 340.5,831.0 348.5,827.8 356.5,823.8 364.5,831.0 372.5,827.8 380.5,827.8 388.5,827.8 396.5,840.0 404.5,844.4 412.5,873.8 420.5,879.8 428.5,875.8 436.5,884.0 444.5,880.8 452.5,882.0 460.5,884.8 468.5,886.0 476.5,879.0 484.5,879.0 492.5,876.0 500.5,877.0 508.5,847.8 516.5,849.0 524.5,852.0 532.5,842.8 540.5,844.8 548.5,834.8 556.5,824.0 564.5,834.8 572.5,830.0 580.5,813.8 588.5,836.8 596.5,846.0 604.5,837.4 612.5,835.8 620.5,836.8 628.5,837.8 636.5,844.8 644.5,840.0 652.5,836.0 660.5,833.4 668.5,831.8 676.5,829.8 684.5,827.8 692.5,815.8 700.5,839.4 708.5,843.8 716.5,843.8 724.5,839.4 732.5,837.8 740.5,841.8 748.5,843.0 756.5,845.0 764.5,839.0 772.5,835.8 780.5,838.0 788.5,828.0 796.5,818.8 804.5,822.8 812.5,824.0 820.5,827.8 828.5,813.8 836.5,817.8 844.5,821.4 852.5,826.8 860.5,824.8 868.5,832.0 876.5,821.4 884.5,819.8 892.5,843.8 900.5,845.0 908.5,841.8 916.5,848.8 924.5,845.0 932.5,840.8 940.5,837.0 948.5,839.0 956.5,833.8 964.5,839.8 972.5,844.8 980.5,840.8 988.5,824.8 996.5,828.4 1004.5,824.8 1012.5,816.4 1020.5,804.8 1028.5,808.0 1036.5,836.0 1044.5,836.8 1052.5,832.0 1060.5,837.8 1068.5,837.8 1076.5,837.8 1084.5,837.0 1092.5,843.0 1100.5,841.8 1108.5,836.0 1116.5,834.8 1124.5,842.0 1132.5,862.8 1140.5,864.0 1148.5,849.0 1156.5,845.8 1164.5,840.0 1172.5,842.8 1180.5,843.8 1188.5,843.8 1196.5,845.8 1204.5,848.0 1212.5,836.0 1220.5,825.4 1228.5,815.0 1236.5,809.0 1244.5,808.8 1252.5,808.8 1260.5,814.0 1268.5,810.4 1276.5,808.8 1284.5,817.8 1292.5,821.8 1300.5,825.0 1308.5,849.8 1316.5,855.8 1324.5,861.7 1332.5,865.8 1340.5,857.4 1348.5,847.4 1356.5,841.0 1364.5,846.4 1372.5,841.0 1380.5,842.4 1388.5,840.4 1396.5,838.4 1404.5,826.8 1412.5,825.8 1420.5,839.4 1428.5,835.0 1436.5,836.4 1444.5,834.8" fill="none" stroke="#1e90ff" stroke-width="1" clip-path="url(#crsi)" shape-rendering="crispEdges" />
<g clip-path="url(#crsi)"><line x1="1349.0" y1="845.5" x2="1433.6" y2="836.4" stroke="#ff0000" stroke-width="3.2"/><path d="M1443.5 835.3 L1432.1 841.3 L1431.1 831.9 Z" fill="#ff0000"/></g>
<text x="1" y="762.06" font-family="Liberation Sans" font-size="10.5px" font-weight="normal" fill="#000" text-anchor="start" textLength="67.0" lengthAdjust="spacingAndGlyphs" >RSI(14) 51.1909</text>
<text x="1658.5" y="760.44" font-family="Liberation Sans" font-size="9.6px" font-weight="normal" fill="#000" text-anchor="start" textLength="15.0" lengthAdjust="spacingAndGlyphs" >100</text>
<text x="1658.5" y="789.34" font-family="Liberation Sans" font-size="9.6px" font-weight="normal" fill="#000" text-anchor="start" textLength="10.0" lengthAdjust="spacingAndGlyphs" >80</text>
<text x="1658.5" y="840.04" font-family="Liberation Sans" font-size="9.6px" font-weight="normal" fill="#000" text-anchor="start" textLength="10.0" lengthAdjust="spacingAndGlyphs" >50</text>
<text x="1658.5" y="901.44" font-family="Liberation Sans" font-size="9.6px" font-weight="normal" fill="#000" text-anchor="start" textLength="10.0" lengthAdjust="spacingAndGlyphs" >15</text>
<text x="1658.5" y="920.24" font-family="Liberation Sans" font-size="9.6px" font-weight="normal" fill="#000" text-anchor="start" textLength="5.0" lengthAdjust="spacingAndGlyphs" >0</text>
<rect x="-4" y="924" width="1" height="3" fill="#000" shape-rendering="crispEdges"/>
<text x="4" y="936.04" font-family="Liberation Sans" font-size="9.6px" font-weight="normal" fill="#000" text-anchor="start" textLength="40.5" lengthAdjust="spacingAndGlyphs" >Aug 2021</text>
<rect x="60" y="924" width="1" height="3" fill="#000" shape-rendering="crispEdges"/>
<text x="59.5" y="936.04" font-family="Liberation Sans" font-size="9.6px" font-weight="normal" fill="#000" text-anchor="start" textLength="51.0" lengthAdjust="spacingAndGlyphs" >4 Aug 04:00</text>
<rect x="124" y="924" width="1" height="3" fill="#000" shape-rendering="crispEdges"/>
<text x="123.5" y="936.04" font-family="Liberation Sans" font-size="9.6px" font-weight="normal" fill="#000" text-anchor="start" textLength="51.0" lengthAdjust="spacingAndGlyphs" >5 Aug 12:00</text>
<rect x="188" y="924" width="1" height="3" fill="#000" shape-rendering="crispEdges"/>
<text x="187.5" y="936.04" font-family="Liberation Sans" font-size="9.6px" font-weight="normal" fill="#000" text-anchor="start" textLength="51.0" lengthAdjust="spacingAndGlyphs" >8 Aug 23:00</text>
<rect x="252" y="924" width="1" height="3" fill="#000" shape-rendering="crispEdges"/>
<text x="251.5" y="936.04" font-family="Liberation Sans" font-size="9.6px" font-weight="normal" fill="#000" text-anchor="start" textLength="56.3" lengthAdjust="spacingAndGlyphs" >10 Aug 04:00</text>
<rect x="316" y="924" width="1" height="3" fill="#000" shape-rendering="crispEdges"/>
<text x="315.5" y="936.04" font-family="Liberation Sans" font-size="9.6px" font-weight="normal" fill="#000" text-anchor="start" textLength="56.3" lengthAdjust="spacingAndGlyphs" >11 Aug 12:00</text>
<rect x="380" y="924" width="1" height="3" fill="#000" shape-rendering="crispEdges"/>
<text x="379.5" y="936.04" font-family="Liberation Sans" font-size="9.6px" font-weight="normal" fill="#000" text-anchor="start" textLength="56.3" lengthAdjust="spacingAndGlyphs" >12 Aug 20:00</text>
<rect x="444" y="924" width="1" height="3" fill="#000" shape-rendering="crispEdges"/>
<text x="443.5" y="936.04" font-family="Liberation Sans" font-size="9.6px" font-weight="normal" fill="#000" text-anchor="start" textLength="56.3" lengthAdjust="spacingAndGlyphs" >16 Aug 04:00</text>
<rect x="508" y="924" width="1" height="3" fill="#000" shape-rendering="crispEdges"/>
<text x="507.5" y="936.04" font-family="Liberation Sans" font-size="9.6px" font-weight="normal" fill="#000" text-anchor="start" textLength="56.3" lengthAdjust="spacingAndGlyphs" >17 Aug 12:00</text>
<rect x="572" y="924" width="1" height="3" fill="#000" shape-rendering="crispEdges"/>
<text x="571.5" y="936.04" font-family="Liberation Sans" font-size="9.6px" font-weight="normal" fill="#000" text-anchor="start" textLength="56.3" lengthAdjust="spacingAndGlyphs" >18 Aug 20:00</text>
<rect x="636" y="924" width="1" height="3" fill="#000" shape-rendering="crispEdges"/>
<text x="635.5" y="936.04" font-family="Liberation Sans" font-size="9.6px" font-weight="normal" fill="#000" text-anchor="start" textLength="56.3" lengthAdjust="spacingAndGlyphs" >20 Aug 04:00</text>
<rect x="700" y="924" width="1" height="3" fill="#000" shape-rendering="crispEdges"/>
<text x="699.5" y="936.04" font-family="Liberation Sans" font-size="9.6px" font-weight="normal" fill="#000" text-anchor="start" textLength="56.3" lengthAdjust="spacingAndGlyphs" >23 Aug 12:00</text>
<rect x="764" y="924" width="1" height="3" fill="#000" shape-rendering="crispEdges"/>
<text x="763.5" y="936.04" font-family="Liberation Sans" font-size="9.6px" font-weight="normal" fill="#000" text-anchor="start" textLength="56.3" lengthAdjust="spacingAndGlyphs" >24 Aug 20:00</text>
<rect x="828" y="924" width="1" height="3" fill="#000" shape-rendering="crispEdges"/>
<text x="827.5" y="936.04" font-family="Liberation Sans" font-size="9.6px" font-weight="normal" fill="#000" text-anchor="start" textLength="56.3" lengthAdjust="spacingAndGlyphs" >26 Aug 04:00</text>
<rect x="892" y="924" width="1" height="3" fill="#000" shape-rendering="crispEdges"/>
<text x="891.5" y="936.04" font-family="Liberation Sans" font-size="9.6px" font-weight="normal" fill="#000" text-anchor="start" textLength="56.3" lengthAdjust="spacingAndGlyphs" >27 Aug 12:00</text>
<rect x="956" y="924" width="1" height="3" fill="#000" shape-rendering="crispEdges"/>
<text x="955.5" y="936.04" font-family="Liberation Sans" font-size="9.6px" font-weight="normal" fill="#000" text-anchor="start" textLength="56.3" lengthAdjust="spacingAndGlyphs" >30 Aug 20:00</text>
<rect x="1020" y="924" width="1" height="3" fill="#000" shape-rendering="crispEdges"/>
<text x="1019.5" y="936.04" font-family="Liberation Sans" font-size="9.6px" font-weight="normal" fill="#000" text-anchor="start" textLength="51.0" lengthAdjust="spacingAndGlyphs" >1 Sep 04:00</text>
<rect x="1084" y="924" width="1" height="3" fill="#000" shape-rendering="crispEdges"/>
<text x="1083.5" y="936.04" font-family="Liberation Sans" font-size="9.6px" font-weight="normal" fill="#000" text-anchor="start" textLength="51.0" lengthAdjust="spacingAndGlyphs" >2 Sep 12:00</text>
<rect x="1148" y="924" width="1" height="3" fill="#000" shape-rendering="crispEdges"/>
<text x="1147.5" y="936.04" font-family="Liberation Sans" font-size="9.6px" font-weight="normal" fill="#000" text-anchor="start" textLength="51.0" lengthAdjust="spacingAndGlyphs" >5 Sep 23:00</text>
<rect x="1212" y="924" width="1" height="3" fill="#000" shape-rendering="crispEdges"/>
<text x="1211.5" y="936.04" font-family="Liberation Sans" font-size="9.6px" font-weight="normal" fill="#000" text-anchor="start" textLength="51.0" lengthAdjust="spacingAndGlyphs" >7 Sep 04:00</text>
<rect x="1276" y="924" width="1" height="3" fill="#000" shape-rendering="crispEdges"/>
<text x="1275.5" y="936.04" font-family="Liberation Sans" font-size="9.6px" font-weight="normal" fill="#000" text-anchor="start" textLength="51.0" lengthAdjust="spacingAndGlyphs" >8 Sep 12:00</text>
<rect x="1340" y="924" width="1" height="3" fill="#000" shape-rendering="crispEdges"/>
<text x="1339.5" y="936.04" font-family="Liberation Sans" font-size="9.6px" font-weight="normal" fill="#000" text-anchor="start" textLength="51.0" lengthAdjust="spacingAndGlyphs" >9 Sep 20:00</text>
<rect x="1404" y="924" width="1" height="3" fill="#000" shape-rendering="crispEdges"/>
<text x="1403.5" y="936.04" font-family="Liberation Sans" font-size="9.6px" font-weight="normal" fill="#000" text-anchor="start" textLength="56.3" lengthAdjust="spacingAndGlyphs" >13 Sep 04:00</text>
<path d="M0 33 L3.1 28.8 L6.3 33 Z" fill="#000"/>
<text x="11" y="34.76" font-family="Liberation Sans" font-size="10.5px" font-weight="normal" fill="#000" text-anchor="start" textLength="200.6" lengthAdjust="spacingAndGlyphs" >USDJPY-,H4  110.003 110.003 109.994 109.999</text>
<g>
<rect x="0" y="42" width="51" height="25" fill="url(#gb1)"/>
<rect x="0" y="66" width="108" height="33" fill="url(#gb2)"/>
<rect x="166" y="42" width="52" height="25" fill="url(#gb1)"/>
<rect x="110" y="66" width="108" height="33" fill="url(#gb2)"/>
<path d="M50.5 42 V66 M0 42.5 H51" stroke="#0c0cb0" stroke-width="1" fill="none"/>
<path d="M166.5 42 V66 M166 42.5 H218 M217.5 42 V99" stroke="#0c0cb0" stroke-width="1" fill="none"/>
<path d="M107.5 66 V99 M110.5 66 V99" stroke="#0a0aa8" stroke-width="1" fill="none"/>
<rect x="3" y="65" width="44" height="1" fill="#0c0cac"/><rect x="3" y="66" width="44" height="1" fill="#8a8aff"/>
<rect x="170" y="65" width="44" height="1" fill="#0c0cac"/><rect x="170" y="66" width="44" height="1" fill="#8a8aff"/>
<rect x="53.5" y="42.5" width="110" height="21" fill="#fff" stroke="#a9a9a9" stroke-width="1"/>
<rect x="54.5" y="43.5" width="20" height="19" fill="url(#gbtn)" stroke="#c4c4c4" stroke-width="1"/>
<rect x="142.5" y="43.5" width="20" height="19" fill="url(#gbtn)" stroke="#c4c4c4" stroke-width="1"/>
<path d="M74.5 43 V63 M142.5 43 V63" stroke="#b0b0b0" stroke-width="1"/>
<path d="M61.3 51.5 H66.7 L64 54.8 Z" fill="#4a5fb8"/><path d="M149.6 54.3 H155 L152.3 51 Z" fill="#4a5fb8"/>
<text x="138.6" y="56.9" font-family="Liberation Sans" font-size="12px" fill="#000" text-anchor="end" textLength="23" lengthAdjust="spacingAndGlyphs">1.00</text>
<text x="11.6" y="58.1" font-family="Liberation Sans" font-size="12.2px" fill="#e6e6ff" textLength="25.6" lengthAdjust="spacingAndGlyphs">SELL</text>
<text x="179.7" y="58.1" font-family="Liberation Sans" font-size="12.2px" fill="#e6e6ff" textLength="23.3" lengthAdjust="spacingAndGlyphs">BUY</text>
<text x="22.5" y="94" font-family="Liberation Sans" font-size="11.4px" font-weight="bold" fill="#fff" textLength="20.5" lengthAdjust="spacingAndGlyphs">109</text>
<text x="46.6" y="93.0" font-family="Liberation Sans" font-size="33px" fill="#fff" textLength="35" lengthAdjust="spacingAndGlyphs">99</text>
<text x="86.2" y="78" font-family="Liberation Sans" font-size="11.2px" font-weight="bold" fill="#fff">9</text>
<text x="132.7" y="94" font-family="Liberation Sans" font-size="11.4px" font-weight="bold" fill="#fff" textLength="20.5" lengthAdjust="spacingAndGlyphs">110</text>
<text x="157.6" y="93.0" font-family="Liberation Sans" font-size="33px" fill="#fff" textLength="35" lengthAdjust="spacingAndGlyphs">01</text>
<text x="197.2" y="78" font-family="Liberation Sans" font-size="11.2px" font-weight="bold" fill="#fff">8</text>
</g>
</svg>
</div></body></html>
